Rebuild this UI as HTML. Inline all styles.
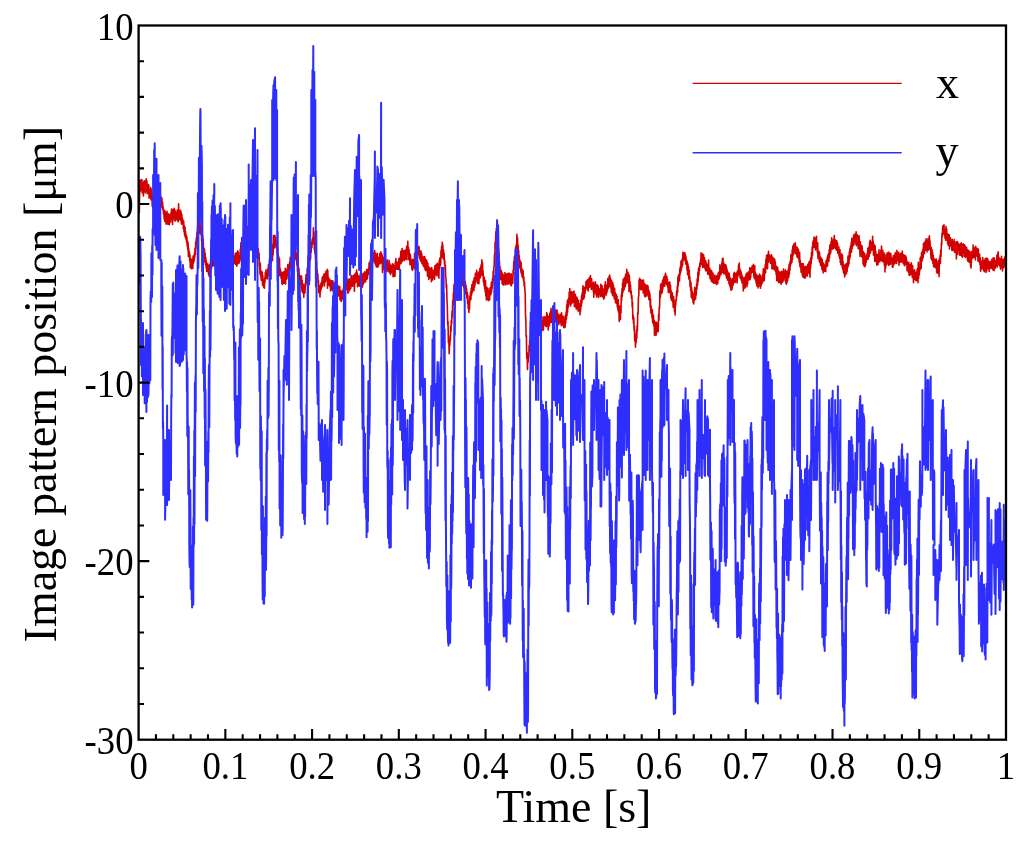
<!DOCTYPE html><html><head><meta charset="utf-8"><style>html,body{margin:0;padding:0;background:#fff;overflow:hidden;}svg{display:block;will-change:transform;}text{font-family:"Liberation Serif",serif;fill:#000;}</style></head><body>
<svg width="1024" height="843" viewBox="0 0 1024 843">
<rect x="0" y="0" width="1024" height="843" fill="#fff"/>
<path d="M139.3 213.1L139.8 180.4 140.2 191.7 140.5 182.1 140.9 188.3 141.2 179.8 141.6 190.2 141.9 179.5 142.2 193.0 142.5 183.3 142.8 189.4 143.1 185.8 143.4 195.9 143.7 181.9 144.0 189.9 144.3 180.7 144.6 190.8 145.0 181.5 145.3 192.9 145.6 180.9 145.9 190.7 146.2 178.8 146.6 191.2 146.9 180.9 147.2 193.8 147.5 186.5 147.8 191.7 148.2 184.6 148.5 193.4 148.8 185.1 149.1 198.2 149.4 191.3 149.8 196.4 150.1 189.5 150.4 197.3 150.7 187.6 151.0 199.8 151.3 189.2 151.6 199.4 151.9 193.8 152.2 206.2 152.5 195.4 152.8 207.4 153.1 196.6 153.4 205.9 153.8 194.7 154.1 207.7 154.4 197.9 154.7 205.3 155.0 200.5 155.4 207.8 155.7 196.5 156.0 212.1 156.3 200.6 156.6 206.2 156.9 195.3 157.2 209.7 157.6 198.5 157.9 205.6 158.2 199.6 158.5 205.1 158.8 198.6 159.1 203.7 159.4 194.8 159.7 207.2 160.0 200.4 160.4 206.8 160.7 196.0 161.0 207.8 161.3 197.6 161.6 202.6 161.9 198.1 162.2 205.9 162.6 202.2 162.9 209.7 163.2 207.1 163.5 213.9 163.8 211.5 164.2 219.0 164.5 210.3 164.8 221.5 165.1 211.4 165.4 221.0 165.8 213.0 166.1 224.2 166.4 215.3 166.7 220.8 167.0 211.3 167.4 223.1 167.7 214.0 168.0 224.4 168.3 213.8 168.6 223.7 169.0 214.4 169.3 224.6 169.6 215.0 169.9 222.5 170.2 215.2 170.6 221.9 170.9 213.0 171.2 218.6 171.5 209.0 171.8 217.1 172.2 210.1 172.5 224.5 172.8 209.5 173.1 220.2 173.4 210.2 173.8 216.1 174.1 208.3 174.4 218.0 174.7 209.8 175.0 221.2 175.4 211.0 175.7 220.2 176.0 212.6 176.3 218.9 176.6 213.0 177.0 218.5 177.3 210.0 177.6 220.8 177.9 211.3 178.2 221.8 178.6 203.7 178.9 219.4 179.2 210.2 179.5 219.3 179.8 212.9 180.2 220.3 180.5 210.4 180.8 216.2 181.1 212.1 181.4 224.1 181.8 214.2 182.1 222.0 182.4 218.2 182.7 223.7 183.0 220.0 183.4 228.8 183.7 221.3 184.0 231.9 184.3 225.7 184.6 235.6 185.0 227.0 185.3 237.3 185.6 231.6 185.9 239.0 186.2 235.1 186.6 242.2 186.9 236.7 187.2 246.1 187.5 240.8 187.8 249.7 188.1 242.8 188.4 256.5 188.7 248.5 189.0 255.6 189.4 251.7 189.7 260.6 190.0 254.9 190.3 267.6 190.6 260.1 190.9 268.2 191.2 264.0 191.5 268.8 191.8 259.0 192.2 268.2 192.5 259.5 192.8 268.5 193.1 256.1 193.4 263.2 193.8 256.0 194.1 261.2 194.4 253.2 194.7 258.0 195.0 248.2 195.4 254.6 195.7 241.9 196.0 248.9 196.3 237.9 196.6 242.3 197.0 232.3 197.3 237.7 197.6 225.9 197.9 233.4 198.2 221.5 198.5 233.2 198.8 215.7 199.1 233.8 199.4 221.1 199.7 230.3 200.0 220.7 200.3 232.3 200.6 226.1 201.0 234.9 201.3 230.0 201.6 240.8 201.9 230.5 202.2 244.1 202.6 235.1 202.9 247.1 203.2 238.9 203.5 253.5 203.8 248.0 204.2 258.9 204.5 249.0 204.8 261.9 205.1 253.2 205.4 264.6 205.8 257.4 206.1 268.0 206.4 261.2 206.7 271.5 207.0 266.6 207.3 271.4 207.7 263.8 208.0 271.2 208.3 267.6 208.6 274.8 208.9 265.4 209.2 276.4 209.5 264.9 209.8 275.4 210.1 264.2 210.4 267.0 210.7 259.9 211.0 265.4 211.3 257.4 211.6 262.2 211.9 257.9 212.2 266.3 212.6 255.9 212.9 265.1 213.2 257.8 213.5 265.6 213.8 255.4 214.1 265.6 214.4 253.5 214.7 263.0 215.1 255.5 215.4 262.9 215.7 254.6 216.0 263.2 216.3 251.1 216.6 261.6 216.9 254.2 217.2 262.0 217.5 254.0 217.8 260.7 218.1 250.0 218.4 259.5 218.7 253.7 219.0 258.7 219.3 248.3 219.6 262.8 219.9 254.8 220.2 259.6 220.5 253.4 220.8 261.6 221.1 254.6 221.4 264.7 221.7 255.3 222.0 261.7 222.3 257.1 222.6 262.4 222.9 253.9 223.2 265.3 223.5 255.4 223.8 264.5 224.2 257.9 224.5 262.9 224.8 253.6 225.1 262.9 225.4 256.1 225.7 261.1 226.0 255.4 226.3 263.3 226.6 254.7 226.9 264.9 227.2 260.1 227.5 262.7 227.8 258.0 228.2 265.2 228.5 254.8 228.8 265.7 229.1 250.6 229.4 266.3 229.7 260.1 230.0 268.3 230.3 258.6 230.6 267.3 230.9 259.9 231.2 266.5 231.5 259.3 231.8 264.0 232.2 254.1 232.5 266.9 232.8 259.8 233.1 269.8 233.4 255.8 233.7 263.9 234.0 256.0 234.3 263.2 234.6 259.5 234.9 261.9 235.3 253.4 235.6 264.4 235.9 254.7 236.2 261.2 236.5 253.0 236.8 266.3 237.1 252.2 237.4 264.2 237.7 250.9 238.0 262.7 238.3 252.0 238.6 263.2 238.9 255.5 239.2 262.9 239.5 257.6 240.0 261.1 240.3 249.1 240.6 258.4 240.9 242.7 241.2 256.8 241.6 248.1 241.9 257.5 242.2 243.1 242.5 251.0 242.8 241.9 243.1 248.8 243.4 241.4 243.7 248.0 244.0 238.2 244.3 245.4 244.6 232.7 244.9 243.9 245.2 233.6 245.5 240.9 245.8 229.2 246.1 240.2 246.4 229.4 246.7 238.7 247.0 227.0 247.3 238.9 247.6 226.6 247.9 234.4 248.2 228.3 248.6 237.8 248.9 227.9 249.2 234.5 249.5 226.3 249.8 229.6 250.1 220.1 250.4 229.8 250.8 218.4 251.1 228.9 251.4 216.7 251.7 226.4 252.0 219.8 252.3 223.0 252.7 212.0 253.1 229.4 253.4 214.6 253.8 221.1 254.1 212.3 254.4 222.0 254.7 216.8 255.0 231.0 255.3 219.8 255.6 233.6 256.0 227.0 256.3 235.9 256.6 231.5 256.9 251.4 257.2 243.8 257.5 253.1 257.8 248.2 258.1 258.5 258.4 249.2 258.8 258.4 259.1 253.6 259.4 266.3 259.7 262.1 260.0 274.1 260.3 263.5 260.6 276.3 260.9 270.4 261.2 280.2 261.5 271.7 261.9 279.2 262.2 272.0 262.5 285.3 262.8 275.5 263.1 285.6 263.4 279.7 263.7 287.5 264.0 280.1 264.4 288.2 264.7 278.1 265.0 282.3 265.3 272.2 265.6 278.1 266.0 269.9 266.3 278.2 266.6 273.8 266.9 278.8 267.2 273.5 267.5 279.0 267.8 268.7 268.1 274.8 268.5 264.5 268.8 275.2 269.1 264.6 269.4 269.9 269.7 260.3 270.0 268.9 270.3 261.2 270.6 263.0 270.9 253.0 271.2 262.9 271.6 251.2 271.9 258.3 272.2 247.5 272.5 260.4 272.8 244.3 273.1 255.0 273.5 235.6 273.8 248.3 274.2 239.7 274.5 248.0 274.9 235.4 275.2 246.0 275.5 237.2 275.9 246.5 276.2 240.6 276.5 247.9 276.8 244.6 277.2 253.9 277.5 247.6 277.8 257.3 278.2 253.8 278.5 265.4 278.8 256.9 279.1 266.1 279.5 258.7 279.8 275.7 280.1 268.6 280.5 273.1 280.8 270.9 281.2 278.7 281.5 272.8 281.9 283.6 282.2 275.8 282.5 284.5 282.8 272.3 283.1 280.4 283.4 274.2 283.8 283.3 284.1 271.6 284.4 279.8 284.7 273.5 285.0 283.5 285.3 268.4 285.6 284.1 285.9 270.1 286.2 279.1 286.5 270.1 286.9 278.9 287.2 268.8 287.5 276.0 287.8 264.6 288.1 274.8 288.4 266.4 288.7 273.8 289.0 265.2 289.3 269.1 289.6 262.2 289.9 270.1 290.2 257.2 290.5 268.1 290.8 258.0 291.1 262.8 291.4 257.2 291.7 269.4 292.0 254.4 292.3 260.1 292.6 253.0 293.0 262.0 293.3 252.8 293.6 261.3 293.9 253.3 294.2 262.5 294.5 252.7 294.9 259.9 295.2 248.6 295.5 256.1 295.8 251.0 296.2 258.0 296.5 253.0 296.8 265.0 297.1 261.0 297.5 271.6 297.8 264.5 298.1 276.3 298.4 266.3 298.7 278.0 299.0 268.6 299.4 282.2 299.7 275.5 300.0 281.2 300.3 275.8 300.6 284.3 300.9 279.6 301.2 287.0 301.5 276.0 301.9 290.9 302.2 280.4 302.5 292.6 302.8 285.2 303.1 292.5 303.5 284.2 303.8 297.3 304.1 285.9 304.4 291.2 304.7 286.4 305.0 293.0 305.3 283.2 305.6 285.5 306.0 274.7 306.3 283.4 306.6 276.0 306.9 281.8 307.2 268.2 307.5 276.1 307.8 266.9 308.1 276.7 308.4 262.9 308.8 268.5 309.1 257.8 309.4 266.2 309.7 250.7 310.0 261.1 310.3 248.8 310.6 258.9 310.9 244.8 311.2 252.3 311.5 242.0 311.9 247.5 312.2 239.6 312.5 242.4 312.8 237.7 313.1 241.9 313.4 227.8 313.7 244.3 314.0 231.9 314.4 250.1 314.7 242.0 315.0 253.7 315.3 250.2 315.6 258.7 315.9 256.0 316.2 268.1 316.5 261.2 316.8 276.0 317.1 270.3 317.5 279.9 317.8 273.9 318.1 283.0 318.4 280.2 318.7 292.6 319.1 285.1 319.4 291.8 319.7 286.7 320.0 297.0 320.3 287.4 320.6 291.1 320.9 283.3 321.2 289.1 321.6 281.9 321.9 287.2 322.2 277.6 322.5 286.0 322.8 276.8 323.1 282.8 323.4 275.7 323.7 281.4 324.0 274.1 324.4 286.0 324.7 273.8 325.0 280.4 325.3 273.5 325.6 281.7 325.9 271.2 326.2 279.7 326.5 274.0 326.9 279.6 327.2 269.4 327.5 288.2 327.8 270.5 328.1 284.4 328.5 277.3 328.8 285.2 329.1 278.8 329.4 284.1 329.7 279.5 330.0 286.8 330.3 280.2 330.6 291.0 331.0 281.9 331.3 289.8 331.6 280.9 331.9 289.2 332.2 285.7 332.5 289.9 332.8 280.7 333.1 291.1 333.5 283.2 333.8 291.6 334.1 284.6 334.4 292.8 334.7 283.4 335.0 294.1 335.3 281.9 335.6 289.4 336.0 283.7 336.3 291.5 336.6 281.3 336.9 293.3 337.2 284.2 337.5 292.2 337.8 285.9 338.1 295.7 338.4 286.0 338.8 294.8 339.1 289.0 339.4 296.1 339.7 286.6 340.0 299.9 340.3 292.1 340.7 297.9 341.0 290.7 341.3 301.5 341.6 291.4 342.0 299.7 342.3 295.0 342.6 297.9 343.0 289.6 343.3 296.5 343.7 287.2 344.0 295.5 344.4 283.6 344.7 289.1 345.0 280.8 345.3 288.0 345.6 279.2 345.9 285.2 346.2 283.9 346.5 289.3 346.8 278.8 347.1 289.1 347.4 281.4 347.7 293.1 348.0 284.2 348.3 292.7 348.6 279.5 348.9 291.2 349.2 278.8 349.5 290.2 349.8 281.0 350.1 289.4 350.4 281.8 350.7 288.5 351.0 276.8 351.3 286.4 351.6 275.5 351.9 285.9 352.2 280.2 352.5 286.2 352.8 278.8 353.1 284.0 353.4 275.3 353.7 285.6 354.1 276.2 354.4 291.2 354.7 274.2 355.0 283.5 355.3 274.0 355.6 282.5 355.9 272.7 356.2 281.2 356.6 270.1 356.9 280.9 357.2 272.7 357.5 286.8 357.8 275.2 358.2 285.4 358.5 275.7 358.8 283.9 359.1 279.7 359.4 286.3 359.7 276.8 360.0 280.0 360.4 273.6 360.7 285.4 361.0 276.9 361.3 284.1 361.6 273.3 361.9 282.2 362.2 275.1 362.5 287.1 362.8 277.0 363.1 284.6 363.4 273.4 363.8 283.1 364.1 277.1 364.4 281.4 364.7 271.9 365.0 281.4 365.3 274.0 365.6 282.0 365.9 272.0 366.2 278.4 366.6 269.6 366.9 279.1 367.2 272.5 367.5 278.7 367.8 269.6 368.1 274.7 368.4 268.5 368.7 274.4 369.1 262.7 369.4 270.7 369.7 263.5 370.0 269.0 370.3 260.3 370.7 270.2 371.0 257.7 371.3 265.3 371.6 255.4 371.9 265.0 372.2 251.1 372.5 263.1 372.9 254.1 373.2 261.3 373.5 252.7 373.8 260.9 374.1 252.3 374.4 259.9 374.7 250.5 375.0 263.4 375.3 253.1 375.6 265.0 375.9 254.4 376.3 267.0 376.6 254.3 376.9 266.3 377.2 253.4 377.5 267.1 377.8 257.5 378.1 266.7 378.4 258.0 378.7 265.0 379.1 257.0 379.4 261.1 379.7 253.6 380.0 263.8 380.3 254.2 380.6 258.4 380.9 251.7 381.2 262.5 381.6 253.4 381.9 263.5 382.2 255.1 382.5 272.5 382.8 259.0 383.2 265.4 383.5 257.4 383.8 268.9 384.1 261.1 384.4 269.9 384.7 265.4 385.0 269.6 385.4 260.2 385.7 272.3 386.0 262.2 386.3 271.1 386.6 261.5 386.9 269.1 387.2 259.7 387.5 269.2 387.8 264.0 388.1 271.8 388.4 263.9 388.8 269.8 389.1 260.3 389.4 271.9 389.7 263.4 390.0 273.5 390.3 264.9 390.6 274.4 390.9 266.5 391.2 270.7 391.5 265.5 391.8 272.4 392.1 264.7 392.4 271.8 392.7 263.9 393.0 276.6 393.3 264.3 393.7 276.8 394.0 268.7 394.3 275.7 394.7 265.5 395.0 276.2 395.3 262.1 395.6 268.7 395.9 258.6 396.2 269.2 396.5 262.5 396.8 268.8 397.1 262.5 397.4 269.2 397.7 262.5 398.0 267.1 398.3 261.2 398.6 269.8 398.9 258.5 399.2 269.5 399.6 260.3 399.9 264.3 400.2 257.1 400.5 262.7 400.8 251.3 401.1 263.5 401.5 253.9 401.8 261.4 402.1 248.5 402.4 261.5 402.8 250.4 403.1 259.7 403.4 251.0 403.7 258.4 404.1 250.6 404.4 260.6 404.7 250.6 405.0 258.6 405.4 251.9 405.7 259.1 406.0 249.6 406.3 256.5 406.6 246.4 406.9 259.8 407.2 247.3 407.5 252.9 407.8 241.4 408.1 253.0 408.5 247.6 408.8 259.4 409.1 249.7 409.4 260.6 409.7 254.8 410.0 264.9 410.4 254.2 410.7 263.9 411.0 258.9 411.3 264.1 411.6 261.2 411.9 269.3 412.2 261.4 412.5 270.4 412.8 259.4 413.1 266.6 413.4 260.3 413.7 267.4 414.0 261.6 414.3 268.7 414.6 253.4 414.9 261.6 415.2 252.5 415.6 263.1 415.9 253.2 416.2 261.7 416.5 252.1 416.8 258.6 417.1 248.6 417.5 253.7 417.8 248.7 418.1 254.5 418.4 246.4 418.8 254.9 419.1 246.9 419.4 257.9 419.7 252.1 420.1 259.8 420.4 251.1 420.7 261.2 421.0 251.0 421.4 258.9 421.7 253.4 422.0 263.7 422.3 256.3 422.6 259.5 422.9 256.5 423.2 265.6 423.5 257.2 423.8 266.7 424.1 260.7 424.4 263.4 424.7 256.6 425.0 269.5 425.3 258.8 425.6 270.6 425.9 262.8 426.3 270.4 426.6 260.0 426.9 270.6 427.2 262.4 427.5 276.2 427.8 263.2 428.2 274.7 428.5 266.5 428.8 279.4 429.1 267.2 429.5 278.1 429.8 270.0 430.1 274.7 430.4 268.3 430.8 277.5 431.1 271.7 431.4 281.7 431.7 267.6 432.1 280.1 432.4 270.0 432.7 280.0 433.0 270.1 433.4 275.7 433.7 271.5 434.0 277.5 434.3 270.9 434.6 279.2 434.9 265.7 435.3 272.7 435.6 265.6 435.9 274.8 436.2 264.6 436.5 275.1 436.8 267.1 437.1 275.9 437.4 263.2 437.7 272.0 438.0 264.3 438.3 272.1 438.6 265.3 438.9 278.3 439.2 260.8 439.5 268.7 439.8 258.2 440.1 266.4 440.4 257.3 440.7 264.8 441.0 250.6 441.3 257.2 441.6 246.5 441.9 257.1 442.2 242.3 442.5 249.5 442.8 244.8 443.2 258.7 443.5 249.9 443.8 259.5 444.1 253.1 444.5 264.7 444.8 260.2 445.1 269.2 445.4 265.4 445.7 277.8 446.0 278.1 446.3 288.0 446.6 284.3 447.0 300.8 447.3 305.8 447.7 324.9 448.0 321.6 448.4 342.7 448.8 340.3 449.2 353.8 449.5 342.5 449.8 345.5 450.1 335.7 450.4 340.3 450.7 326.2 451.0 331.7 451.3 320.3 451.7 323.8 452.0 311.4 452.4 317.3 452.7 300.7 453.0 305.5 453.4 293.0 453.7 297.1 454.0 284.4 454.4 297.1 454.7 284.8 455.0 293.9 455.4 283.0 455.7 288.3 456.1 280.5 456.4 287.0 456.7 278.6 457.0 281.0 457.3 272.1 457.6 278.6 457.9 270.5 458.2 277.3 458.5 268.3 458.8 271.7 459.1 262.4 459.4 273.0 459.7 268.1 460.1 277.6 460.4 269.7 460.7 279.0 461.0 271.9 461.4 282.7 461.7 272.9 462.0 285.8 462.3 269.8 462.6 281.7 462.9 277.4 463.2 285.5 463.5 274.2 463.8 287.5 464.1 278.0 464.4 290.4 464.7 280.8 465.0 291.6 465.3 281.8 465.6 293.8 466.0 285.0 466.3 291.7 466.6 288.7 466.9 298.2 467.3 292.6 467.6 303.6 467.9 295.2 468.2 308.4 468.6 301.4 468.9 312.5 469.2 302.1 469.5 309.1 469.9 296.3 470.2 300.2 470.5 292.1 470.9 299.5 471.2 288.5 471.5 295.5 471.8 284.7 472.1 292.9 472.4 285.3 472.7 291.7 473.0 281.7 473.3 288.4 473.6 280.2 473.9 290.4 474.2 277.8 474.5 287.5 474.8 278.5 475.1 284.8 475.4 273.3 475.7 282.1 476.1 273.0 476.4 279.5 476.7 270.3 477.0 279.0 477.3 274.0 477.6 283.4 478.0 273.6 478.3 280.2 478.6 272.3 478.9 283.8 479.3 271.3 479.6 277.2 479.9 268.6 480.2 277.9 480.6 266.8 480.9 275.9 481.2 264.6 481.5 274.5 481.9 259.9 482.2 270.5 482.5 262.6 482.8 276.0 483.1 270.9 483.4 281.9 483.7 276.3 484.0 285.5 484.3 277.7 484.6 288.5 484.9 282.0 485.2 292.0 485.5 280.5 485.8 296.0 486.1 287.5 486.4 299.9 486.8 287.1 487.1 296.9 487.4 289.4 487.7 299.3 488.0 288.6 488.3 300.7 488.7 290.7 489.0 298.1 489.3 291.4 489.6 299.9 490.0 287.8 490.3 293.5 490.6 288.1 490.9 294.8 491.3 282.5 491.6 292.3 491.9 281.7 492.2 288.1 492.6 278.2 492.9 283.9 493.2 271.1 493.5 279.8 493.9 267.2 494.2 266.2 494.5 254.0 494.8 256.5 495.1 242.0 495.4 248.6 495.8 231.9 496.1 239.9 496.4 228.1 496.7 230.3 497.0 219.7 497.3 230.4 497.6 229.1 497.9 241.3 498.2 235.0 498.5 251.1 498.8 249.0 499.1 263.9 499.4 261.0 499.7 270.0 500.0 266.6 500.3 279.8 500.6 269.5 500.9 278.6 501.2 270.6 501.5 279.2 501.8 272.0 502.1 283.6 502.4 273.6 502.7 284.4 503.0 274.1 503.3 280.9 503.6 275.8 503.9 285.3 504.2 275.7 504.6 283.3 504.9 272.5 505.2 279.8 505.5 274.6 505.8 284.7 506.1 275.7 506.5 284.0 506.8 273.9 507.1 281.9 507.4 274.5 507.7 284.1 508.1 273.2 508.4 283.7 508.7 277.0 509.0 282.6 509.3 273.4 509.6 283.7 510.0 274.9 510.3 284.2 510.6 274.2 510.9 285.5 511.2 273.7 511.5 285.7 511.9 277.4 512.2 281.0 512.5 275.7 512.8 283.3 513.1 270.4 513.4 274.5 513.8 261.6 514.1 269.9 514.4 256.5 514.7 265.7 515.0 255.3 515.3 258.0 515.6 246.7 516.0 257.7 516.3 244.5 516.6 249.3 516.9 234.3 517.2 247.0 517.5 237.2 517.8 249.9 518.1 245.0 518.4 256.5 518.7 250.6 519.0 265.7 519.3 255.8 519.6 267.2 519.9 260.0 520.2 268.6 520.6 261.5 520.9 272.2 521.2 262.8 521.5 274.2 521.8 269.4 522.1 277.0 522.5 269.5 522.8 277.8 523.1 270.8 523.5 280.8 523.8 276.8 524.2 286.1 524.5 281.7 524.9 290.5 525.2 293.7 525.5 315.3 525.8 318.3 526.1 336.5 526.4 335.4 526.7 358.2 527.1 352.3 527.5 369.6 527.8 356.4 528.1 362.2 528.5 354.9 528.8 356.4 529.1 345.5 529.4 351.6 529.7 340.6 530.0 342.6 530.4 321.6 530.7 333.2 531.0 317.1 531.4 325.4 531.7 305.0 532.0 309.9 532.3 303.0 532.6 309.5 533.0 298.2 533.3 305.6 533.6 301.4 533.9 312.3 534.2 302.0 534.5 312.5 534.9 305.4 535.2 312.5 535.5 304.6 535.8 318.8 536.1 307.3 536.4 315.3 536.8 304.6 537.1 312.7 537.4 307.8 537.7 314.4 538.0 313.1 538.3 319.9 538.6 313.4 539.0 319.4 539.3 309.2 539.6 318.8 539.9 310.6 540.2 323.8 540.5 315.0 540.8 326.6 541.1 317.2 541.5 325.8 541.8 316.2 542.1 330.7 542.4 321.8 542.7 327.6 543.0 320.9 543.4 330.0 543.7 317.0 544.0 325.5 544.3 317.9 544.6 324.8 544.9 316.9 545.2 323.0 545.5 318.4 545.8 326.2 546.1 316.7 546.4 326.6 546.7 312.6 547.0 324.1 547.3 314.4 547.6 323.7 547.9 319.4 548.2 330.0 548.5 316.3 548.8 326.4 549.1 317.8 549.5 325.4 549.8 313.2 550.1 322.8 550.4 312.1 550.7 320.9 551.0 308.4 551.4 322.5 551.7 310.4 552.0 319.9 552.3 311.6 552.6 316.4 552.9 309.2 553.2 316.4 553.5 312.3 553.8 317.9 554.1 310.5 554.4 324.6 554.7 311.2 555.0 321.7 555.3 313.1 555.6 321.6 555.9 309.7 556.2 316.6 556.5 311.1 556.8 321.4 557.1 310.4 557.4 321.1 557.8 313.7 558.1 319.6 558.4 314.2 558.7 324.8 559.0 315.8 559.3 321.5 559.7 316.3 560.0 322.8 560.3 314.4 560.6 320.7 560.9 314.8 561.2 325.6 561.6 312.8 561.9 324.3 562.2 317.1 562.5 323.1 562.9 316.3 563.2 326.1 563.5 316.5 563.8 327.5 564.2 318.7 564.5 327.8 564.8 321.2 565.1 327.3 565.4 315.2 565.7 323.0 566.1 312.1 566.4 319.2 566.7 305.0 567.0 315.7 567.3 300.7 567.6 312.1 568.0 299.5 568.3 307.1 568.6 298.2 568.9 304.8 569.2 292.1 569.5 302.4 569.8 288.5 570.1 298.2 570.4 292.9 570.7 305.9 571.0 293.1 571.3 303.3 571.6 291.5 571.9 303.4 572.2 292.4 572.5 298.7 572.8 292.3 573.1 302.3 573.4 292.1 573.7 297.8 574.0 291.0 574.4 306.5 574.7 295.3 575.0 306.7 575.3 294.4 575.6 303.9 575.9 297.6 576.3 309.3 576.6 297.1 576.9 307.3 577.2 297.7 577.5 307.2 577.8 300.9 578.1 311.3 578.4 300.2 578.8 310.0 579.1 303.5 579.4 310.4 579.7 305.6 580.0 314.6 580.3 304.1 580.6 311.3 580.9 300.0 581.3 306.4 581.6 295.5 581.9 303.0 582.2 292.7 582.5 299.6 582.9 285.8 583.2 298.0 583.5 290.2 583.8 299.1 584.1 287.2 584.4 297.2 584.8 289.4 585.1 293.3 585.4 286.8 585.7 290.3 586.0 281.5 586.3 287.3 586.7 280.8 587.0 288.0 587.3 280.4 587.6 289.1 587.9 279.6 588.2 291.1 588.5 279.7 588.8 286.5 589.2 277.8 589.5 287.1 589.8 279.1 590.1 285.4 590.4 275.6 590.7 286.6 591.0 280.0 591.3 289.5 591.6 278.7 591.9 287.9 592.2 282.8 592.6 288.2 592.9 283.9 593.2 291.3 593.5 282.4 593.8 297.3 594.1 283.8 594.4 293.7 594.7 286.4 595.0 292.3 595.3 281.8 595.6 292.1 595.9 284.4 596.2 294.9 596.5 288.3 596.8 297.0 597.1 284.9 597.4 292.9 597.7 287.6 598.0 294.6 598.3 286.0 598.6 297.5 598.9 288.7 599.3 294.3 599.6 289.7 599.9 294.3 600.2 288.5 600.5 296.5 600.8 284.3 601.2 296.0 601.5 285.2 601.8 295.9 602.1 285.8 602.4 297.0 602.7 290.3 603.1 295.6 603.4 289.0 603.7 299.3 604.0 290.3 604.4 297.7 604.7 285.1 605.0 295.1 605.3 281.9 605.7 292.4 606.0 287.0 606.3 294.9 606.6 285.3 606.9 292.4 607.2 284.5 607.5 290.8 607.8 278.5 608.2 288.4 608.5 279.9 608.8 284.8 609.1 276.4 609.4 286.5 609.7 275.0 610.0 285.2 610.3 277.7 610.6 288.0 611.0 279.7 611.3 292.6 611.6 280.4 611.9 291.4 612.2 285.9 612.5 295.1 612.8 282.7 613.1 296.0 613.4 285.1 613.7 295.2 614.0 288.5 614.3 299.0 614.6 288.3 614.9 298.7 615.2 292.5 615.5 302.6 615.8 293.7 616.1 303.2 616.4 294.6 616.7 303.4 617.0 296.3 617.3 307.3 617.6 299.5 617.9 310.1 618.2 299.8 618.5 312.0 618.9 306.4 619.2 321.4 619.5 306.1 619.8 314.9 620.1 306.5 620.4 319.6 620.7 306.0 621.0 313.0 621.3 295.0 621.6 300.5 622.0 288.9 622.3 296.3 622.6 283.1 622.9 292.2 623.2 279.2 623.5 290.6 623.8 279.9 624.1 289.7 624.4 277.5 624.7 285.7 625.0 281.2 625.3 286.7 625.6 274.3 625.9 283.7 626.2 276.6 626.5 283.4 626.8 269.4 627.1 281.8 627.4 273.5 627.7 282.3 628.0 272.3 628.3 282.9 628.7 274.0 629.0 291.8 629.3 275.6 629.6 288.6 629.9 281.6 630.2 290.8 630.5 284.7 630.9 293.8 631.2 291.4 631.5 298.1 631.9 295.6 632.2 307.1 632.5 302.4 632.8 318.9 633.1 315.1 633.5 323.2 633.8 317.7 634.1 330.3 634.4 326.0 634.7 340.8 635.1 335.4 635.5 347.1 635.8 336.9 636.1 342.6 636.5 330.9 636.8 338.2 637.1 325.9 637.4 330.8 637.7 312.7 638.1 314.1 638.4 297.6 638.8 295.3 639.1 280.1 639.4 289.1 639.7 278.2 640.1 289.0 640.4 279.5 640.7 289.6 641.0 283.0 641.3 289.8 641.6 280.4 642.0 287.1 642.3 280.3 642.6 289.2 642.9 283.7 643.2 293.0 643.5 280.0 643.8 293.0 644.2 283.3 644.5 295.8 644.8 284.4 645.1 296.9 645.4 284.6 645.7 295.9 646.0 285.2 646.3 293.8 646.7 287.1 647.0 296.1 647.3 285.2 647.6 293.9 648.0 286.1 648.3 294.0 648.6 289.8 648.9 299.4 649.3 291.4 649.6 300.5 649.9 293.5 650.2 307.3 650.5 299.0 650.8 312.7 651.1 306.2 651.4 313.7 651.7 311.1 652.0 317.9 652.3 309.7 652.6 322.5 652.9 314.0 653.2 323.6 653.5 315.6 653.9 326.0 654.2 320.2 654.5 335.4 654.8 323.3 655.1 335.2 655.4 322.0 655.7 333.8 656.0 325.6 656.3 335.0 656.7 322.2 657.0 329.1 657.3 324.9 657.6 331.8 657.9 323.5 658.2 331.6 658.6 314.6 658.9 320.4 659.2 307.3 659.6 308.0 659.9 290.8 660.3 297.5 660.6 284.8 660.9 294.4 661.2 283.9 661.5 291.8 661.8 287.2 662.2 292.7 662.5 280.7 662.8 289.2 663.1 279.6 663.4 286.8 663.7 277.1 664.0 284.9 664.3 277.3 664.6 286.3 665.0 275.1 665.3 282.9 665.6 273.3 665.9 282.6 666.2 276.2 666.5 284.7 666.8 276.3 667.1 283.4 667.4 279.0 667.7 286.9 668.0 282.5 668.3 292.4 668.6 283.1 668.9 291.5 669.2 282.4 669.5 292.1 669.8 282.1 670.2 293.2 670.5 285.3 670.8 298.1 671.1 290.5 671.4 300.2 671.7 292.9 672.0 298.4 672.3 292.7 672.6 301.9 672.9 298.8 673.2 307.2 673.6 296.6 673.9 306.2 674.2 300.4 674.5 311.8 674.8 303.4 675.1 315.1 675.4 302.4 675.7 305.3 676.0 299.0 676.3 300.1 676.7 290.9 677.0 295.9 677.3 286.2 677.6 292.4 677.9 277.3 678.2 286.0 678.5 275.4 678.8 282.0 679.1 274.3 679.5 280.7 679.8 268.8 680.1 274.9 680.4 266.6 680.7 272.3 681.0 261.0 681.3 270.3 681.6 262.5 681.9 267.5 682.2 258.7 682.6 265.1 682.9 252.4 683.2 260.5 683.5 254.0 683.8 258.1 684.1 253.0 684.5 259.2 684.8 252.6 685.1 261.1 685.4 254.4 685.7 264.1 686.0 256.8 686.3 263.7 686.7 260.1 687.0 270.1 687.3 261.9 687.6 274.8 687.9 263.7 688.2 274.7 688.5 266.6 688.8 278.9 689.2 270.0 689.5 279.1 689.8 276.6 690.1 286.7 690.4 280.8 690.7 290.6 691.0 282.8 691.3 297.4 691.6 287.5 691.9 296.7 692.2 291.4 692.5 299.5 692.8 292.8 693.1 302.8 693.4 293.6 693.7 303.9 694.1 293.7 694.4 300.4 694.7 287.4 695.0 299.2 695.3 289.4 695.6 299.0 696.0 288.4 696.3 294.9 696.6 284.3 696.9 289.3 697.2 278.7 697.6 285.3 697.9 272.2 698.2 281.2 698.5 268.4 698.9 275.3 699.2 266.5 699.5 270.7 699.8 263.2 700.2 266.4 700.5 260.4 700.8 261.4 701.1 252.9 701.4 264.5 701.7 255.6 702.1 264.4 702.4 253.9 702.7 267.6 703.0 257.9 703.3 266.4 703.6 254.9 704.0 267.3 704.3 257.5 704.6 265.6 704.9 260.3 705.2 269.5 705.5 260.4 705.8 270.8 706.1 262.4 706.4 269.3 706.7 264.0 707.0 271.0 707.3 265.4 707.7 274.2 708.0 264.4 708.3 272.2 708.6 260.0 708.9 274.2 709.2 268.9 709.5 275.6 709.8 268.4 710.1 278.8 710.4 270.3 710.7 277.2 711.1 270.2 711.4 281.4 711.7 270.8 712.0 281.2 712.4 274.3 712.7 282.3 713.0 273.1 713.3 283.1 713.7 276.4 714.0 282.9 714.3 277.4 714.6 282.2 714.9 275.0 715.2 283.2 715.6 278.9 715.9 283.5 716.2 276.7 716.5 284.4 716.8 275.7 717.1 282.5 717.5 275.7 717.8 283.6 718.1 273.2 718.4 277.1 718.7 272.4 719.0 279.3 719.3 272.2 719.6 277.4 719.9 264.9 720.2 274.2 720.5 268.1 720.9 274.6 721.2 266.3 721.5 273.5 721.8 263.1 722.1 272.2 722.4 258.5 722.7 272.1 723.0 258.3 723.3 271.0 723.6 262.9 723.9 273.9 724.2 264.1 724.5 273.5 724.9 265.7 725.2 272.2 725.5 264.9 725.8 275.1 726.1 265.2 726.4 277.3 726.7 268.0 727.0 278.7 727.3 270.4 727.7 280.3 728.0 272.2 728.3 280.2 728.6 273.7 729.0 283.8 729.3 273.2 729.6 285.3 729.9 278.3 730.3 287.3 730.6 278.1 730.9 290.1 731.2 281.4 731.5 290.0 731.8 280.0 732.2 288.9 732.5 278.9 732.8 285.7 733.1 279.3 733.4 284.1 733.7 273.2 734.1 282.0 734.4 272.2 734.7 278.5 735.0 274.0 735.3 282.4 735.6 273.6 735.9 280.5 736.2 274.7 736.5 278.8 736.8 272.8 737.1 283.0 737.4 270.9 737.7 277.4 738.0 270.5 738.3 274.7 738.6 264.8 738.9 271.8 739.2 263.1 739.5 275.0 739.8 268.7 740.1 277.9 740.5 270.4 740.8 278.7 741.1 271.9 741.4 280.4 741.7 274.3 742.0 282.7 742.4 276.2 742.7 283.5 743.0 278.6 743.3 290.9 743.6 278.0 743.9 285.6 744.2 280.4 744.5 288.3 744.8 277.3 745.1 287.7 745.4 277.3 745.7 283.6 746.0 274.5 746.3 284.4 746.6 273.2 746.9 286.8 747.2 277.6 747.5 284.5 748.0 272.2 748.3 279.8 748.6 274.7 748.9 279.9 749.2 271.4 749.5 275.3 749.8 267.8 750.1 279.4 750.4 269.2 750.7 277.8 751.0 268.1 751.3 273.3 751.6 268.5 751.9 272.3 752.2 265.8 752.5 270.9 752.8 266.7 753.1 272.5 753.5 264.4 753.8 276.7 754.1 267.5 754.4 278.6 754.7 265.8 755.0 275.0 755.4 272.7 755.7 280.6 756.0 276.7 756.3 283.4 756.6 274.4 756.9 286.0 757.2 275.7 757.5 283.4 757.8 279.8 758.1 287.9 758.4 275.8 758.7 282.6 759.0 277.5 759.3 283.1 759.6 274.0 759.9 286.5 760.2 275.4 760.5 288.3 760.8 280.9 761.1 285.8 761.4 278.2 761.8 283.6 762.1 275.7 762.4 282.9 762.7 274.2 763.0 281.4 763.3 268.7 763.7 278.0 764.0 269.3 764.3 280.6 764.6 270.2 764.9 273.6 765.2 264.9 765.6 272.8 765.9 259.2 766.2 268.4 766.5 255.6 766.9 263.6 767.2 254.8 767.5 268.8 767.8 254.8 768.2 262.4 768.5 251.2 768.8 257.8 769.1 254.9 769.4 260.0 769.7 255.0 770.1 262.7 770.4 257.5 770.7 263.5 771.0 255.7 771.3 263.8 771.6 254.9 772.0 268.9 772.3 258.1 772.6 266.9 772.9 257.3 773.2 268.7 773.5 261.6 773.8 267.4 774.1 258.7 774.4 269.8 774.7 259.2 775.0 270.0 775.3 261.9 775.6 271.6 775.9 266.8 776.2 274.8 776.5 266.4 776.8 280.7 777.1 271.0 777.4 279.2 777.7 267.2 778.0 280.9 778.4 270.8 778.7 282.6 779.0 271.6 779.3 279.9 779.6 276.3 779.9 282.4 780.3 272.3 780.6 283.2 780.9 274.0 781.2 284.3 781.5 271.2 781.8 280.7 782.2 271.8 782.5 282.2 782.8 273.6 783.1 281.0 783.5 269.1 783.8 280.5 784.1 271.9 784.4 276.4 784.8 271.8 785.1 277.8 785.4 269.7 785.7 282.8 786.0 271.2 786.3 284.2 786.6 275.4 787.0 282.7 787.3 271.4 787.6 280.6 787.9 271.2 788.2 278.1 788.5 268.2 788.8 277.1 789.1 264.2 789.4 274.0 789.7 263.0 790.0 270.0 790.3 260.9 790.6 265.3 790.9 254.7 791.3 263.2 791.6 254.2 791.9 262.4 792.2 249.9 792.5 259.4 792.8 246.4 793.1 255.6 793.4 245.0 793.7 250.2 794.0 243.9 794.3 248.4 794.6 244.5 795.0 253.7 795.3 242.7 795.6 251.6 795.9 246.3 796.2 253.4 796.5 247.7 796.9 256.5 797.2 247.4 797.5 257.5 797.8 248.8 798.1 256.7 798.4 249.2 798.7 258.9 799.0 256.7 799.3 262.7 799.6 252.3 799.9 266.2 800.2 260.2 800.5 267.6 800.8 264.4 801.1 272.2 801.4 263.7 801.7 269.6 802.0 263.4 802.3 275.2 802.6 265.5 802.9 276.9 803.3 263.9 803.6 276.1 803.9 267.6 804.2 277.8 804.5 266.7 804.8 278.2 805.2 269.2 805.5 277.6 805.8 266.2 806.1 275.7 806.4 267.0 806.7 273.9 807.1 266.8 807.4 275.9 807.7 264.3 808.0 270.6 808.4 266.1 808.7 273.0 809.0 262.0 809.3 271.3 809.7 261.5 810.0 277.3 810.3 260.0 810.6 268.1 810.9 257.5 811.2 263.9 811.5 252.6 811.8 259.4 812.2 247.0 812.5 255.5 812.8 242.1 813.1 247.8 813.4 240.5 813.7 245.7 814.0 237.4 814.3 247.4 814.6 237.2 815.0 247.7 815.3 239.3 815.6 250.0 815.9 238.4 816.2 247.6 816.5 236.4 816.8 248.1 817.1 243.4 817.4 252.6 817.7 242.8 818.0 258.5 818.4 251.1 818.7 258.8 819.0 251.4 819.3 261.6 819.6 252.9 819.9 262.8 820.2 256.7 820.6 265.5 820.9 259.5 821.2 264.9 821.5 258.0 821.9 269.2 822.2 259.6 822.5 270.2 822.8 263.9 823.2 272.9 823.5 263.1 823.8 270.7 824.1 266.4 824.4 271.1 824.7 265.0 825.1 268.8 825.4 265.1 825.7 271.8 826.0 261.0 826.3 264.5 826.6 259.8 827.0 266.4 827.3 257.0 827.6 265.6 827.9 255.1 828.2 260.9 828.5 253.6 828.9 261.2 829.2 249.7 829.5 257.7 829.8 245.1 830.1 254.2 830.5 244.4 830.8 252.7 831.1 241.6 831.4 248.0 831.7 237.8 832.0 249.3 832.4 240.7 832.7 249.0 833.0 242.4 833.3 248.6 833.6 239.0 833.9 247.0 834.3 235.5 834.6 247.6 834.9 240.3 835.2 248.2 835.5 240.0 835.8 248.9 836.2 242.3 836.5 250.1 836.8 240.8 837.1 249.2 837.5 243.1 837.8 253.3 838.1 246.5 838.4 253.5 838.8 247.1 839.1 256.1 839.4 249.9 839.7 258.5 840.0 249.7 840.3 262.6 840.6 255.5 840.9 264.7 841.2 256.9 841.5 264.1 841.8 253.7 842.2 267.3 842.5 255.4 842.8 269.2 843.1 261.7 843.4 272.3 843.7 266.7 844.0 273.4 844.3 267.7 844.6 277.0 844.9 264.7 845.2 275.1 845.5 264.8 845.8 271.9 846.2 263.5 846.5 273.6 846.8 264.5 847.1 271.5 847.4 262.8 847.7 267.7 848.0 256.1 848.3 265.9 848.6 256.2 849.0 264.0 849.3 251.9 849.6 259.2 849.9 248.8 850.2 256.8 850.5 246.1 850.9 251.7 851.2 242.7 851.5 252.1 851.8 238.2 852.1 248.8 852.4 241.6 852.7 245.9 853.0 238.9 853.3 245.8 853.6 235.5 853.9 244.7 854.2 234.3 854.6 241.5 854.9 234.3 855.2 241.2 855.5 234.7 855.8 244.0 856.1 231.8 856.4 245.7 856.7 237.4 857.0 242.4 857.3 234.7 857.6 243.1 857.9 235.7 858.2 248.6 858.5 236.6 858.8 248.0 859.1 235.8 859.4 249.1 859.7 242.8 860.0 256.5 860.3 241.7 860.6 253.5 860.9 244.9 861.2 253.5 861.5 247.4 861.8 256.6 862.1 246.0 862.4 257.5 862.8 251.1 863.1 264.1 863.4 251.7 863.7 265.2 864.0 256.6 864.3 266.3 864.6 253.2 864.9 266.7 865.2 260.4 865.6 265.0 865.9 256.3 866.2 262.4 866.5 255.0 866.8 259.7 867.1 253.9 867.5 257.2 867.8 248.4 868.1 259.2 868.4 248.9 868.7 257.0 869.0 246.7 869.3 256.2 869.6 241.9 869.9 251.9 870.2 240.2 870.5 252.9 870.8 245.6 871.1 249.5 871.4 242.4 871.7 250.3 872.0 242.8 872.3 247.3 872.6 236.3 872.9 249.7 873.2 241.2 873.5 255.1 873.9 244.0 874.2 253.6 874.5 249.0 874.8 261.5 875.1 245.7 875.4 258.0 875.8 251.5 876.1 261.5 876.4 255.1 876.7 265.1 877.0 254.8 877.3 262.5 877.7 254.9 878.0 264.7 878.3 253.7 878.6 262.1 879.0 249.7 879.3 259.0 879.6 254.5 879.9 261.6 880.3 253.2 880.6 259.8 880.9 250.0 881.2 260.2 881.5 246.1 881.8 257.7 882.2 253.8 882.5 261.8 882.8 250.4 883.1 259.8 883.4 253.9 883.7 261.9 884.1 253.0 884.4 265.6 884.7 254.3 885.0 272.0 885.3 259.9 885.6 268.2 885.9 258.4 886.2 265.1 886.5 254.7 886.8 264.2 887.1 252.9 887.4 262.7 887.7 256.5 888.0 260.9 888.3 253.0 888.6 265.5 888.9 252.1 889.2 261.6 889.5 254.6 889.8 264.5 890.1 253.9 890.5 264.2 890.8 253.4 891.1 260.9 891.4 257.6 891.7 262.5 892.0 258.4 892.4 267.2 892.7 261.5 893.0 267.1 893.3 255.6 893.6 265.0 893.9 256.6 894.2 263.7 894.5 255.2 894.8 262.0 895.1 253.0 895.4 263.0 895.7 253.2 896.0 262.6 896.3 252.0 896.6 263.4 896.9 250.4 897.2 260.3 897.5 253.9 897.8 260.6 898.1 253.9 898.4 261.0 898.7 252.2 899.0 265.3 899.3 255.5 899.6 262.5 899.9 255.9 900.2 259.9 900.5 253.5 900.8 262.3 901.1 253.3 901.4 260.0 901.7 255.6 902.0 261.6 902.3 251.1 902.6 259.9 902.9 256.8 903.2 263.6 903.6 254.9 903.9 264.0 904.2 258.0 904.5 265.7 904.9 255.2 905.2 263.9 905.5 255.7 905.9 264.5 906.2 257.1 906.5 262.4 906.8 260.4 907.1 270.7 907.5 262.5 907.8 268.5 908.1 265.5 908.5 272.1 908.8 262.2 909.1 275.2 909.4 265.6 909.8 275.4 910.1 264.5 910.4 274.1 910.7 265.4 911.0 274.5 911.3 262.7 911.6 274.1 912.0 266.8 912.3 277.5 912.6 265.6 912.9 277.2 913.2 270.8 913.5 282.8 913.8 271.2 914.1 278.3 914.5 269.7 914.8 279.1 915.1 272.4 915.4 279.6 915.7 275.2 916.0 280.7 916.4 272.0 916.7 280.5 917.0 269.8 917.3 277.7 917.7 268.3 918.0 282.8 918.3 262.4 918.6 278.4 919.0 269.4 919.3 274.6 919.6 266.7 919.9 270.6 920.2 257.8 920.6 265.5 920.9 256.7 921.2 268.4 921.5 253.1 921.9 261.1 922.2 251.5 922.5 259.9 922.9 249.2 923.2 257.4 923.5 243.2 923.8 250.9 924.1 245.4 924.5 253.5 924.8 242.0 925.1 250.5 925.5 240.7 925.8 248.5 926.1 238.8 926.4 250.0 926.8 242.8 927.1 251.9 927.4 240.8 927.7 248.9 928.0 238.5 928.4 250.1 928.7 238.3 929.0 249.5 929.4 235.9 929.7 244.0 930.0 241.1 930.3 248.8 930.6 246.7 931.0 258.2 931.3 247.6 931.6 259.4 932.0 249.5 932.3 260.8 932.6 252.3 932.9 263.5 933.2 255.2 933.6 266.7 933.9 259.7 934.2 265.3 934.5 259.1 934.8 267.2 935.1 259.2 935.4 267.5 935.7 261.2 936.0 267.9 936.3 259.1 936.6 272.3 936.9 264.4 937.2 273.3 937.5 263.4 937.8 269.0 938.2 260.7 938.5 273.1 938.8 264.8 939.1 276.6 939.4 258.6 939.8 262.5 940.1 255.2 940.4 263.5 940.7 250.2 941.0 256.4 941.4 242.7 941.7 245.1 942.0 233.3 942.4 236.6 942.7 226.3 943.0 228.0 943.3 225.5 943.7 233.7 944.0 224.7 944.3 234.4 944.7 230.9 945.0 238.2 945.3 229.5 945.7 240.5 946.0 226.5 946.3 235.9 946.6 228.9 947.0 238.6 947.3 233.5 947.6 243.5 948.0 234.0 948.3 245.4 948.6 236.7 948.9 243.7 949.2 234.9 949.5 249.0 949.8 237.8 950.1 246.3 950.4 237.7 950.7 245.3 951.0 241.1 951.3 246.2 951.6 241.4 951.9 250.5 952.2 239.2 952.5 250.5 952.9 241.6 953.2 249.2 953.5 241.5 953.8 250.1 954.2 239.5 954.5 252.3 954.8 243.1 955.1 248.7 955.5 243.9 955.8 252.7 956.1 241.9 956.4 259.0 956.8 245.2 957.1 250.2 957.4 241.5 957.7 254.5 958.0 245.5 958.4 250.9 958.7 243.5 959.0 249.5 959.4 244.9 959.7 255.2 960.0 246.7 960.3 255.2 960.6 243.9 961.0 251.7 961.3 242.8 961.6 256.1 962.0 244.2 962.3 257.2 962.6 246.3 962.9 252.0 963.2 243.8 963.6 252.1 963.9 246.3 964.2 256.4 964.5 244.7 964.9 255.5 965.2 246.1 965.5 257.4 965.8 248.9 966.2 254.9 966.5 247.3 966.8 256.5 967.1 249.3 967.5 260.3 967.8 250.1 968.1 261.4 968.4 250.3 968.7 260.4 969.0 254.0 969.3 262.1 969.6 251.2 969.9 261.5 970.2 252.1 970.5 264.9 971.0 267.9 971.5 261.0 971.8 251.6 972.1 257.5 972.5 254.0 972.8 258.3 973.1 245.0 973.4 256.2 973.8 248.1 974.1 257.1 974.4 248.2 974.7 256.1 975.0 247.3 975.4 259.9 975.7 246.3 976.0 256.3 976.3 251.3 976.7 254.7 977.0 248.3 977.3 256.1 977.6 250.9 978.0 261.2 978.3 249.1 978.6 257.7 978.9 253.6 979.3 261.9 979.6 254.2 979.9 264.6 980.2 257.9 980.6 271.3 980.9 266.4 981.2 269.0 981.5 262.1 981.8 266.5 982.1 260.5 982.4 268.7 982.7 257.6 983.0 265.5 983.3 262.6 983.7 270.4 984.0 260.6 984.3 271.7 984.6 262.1 984.9 270.5 985.2 258.6 985.5 269.2 985.8 261.9 986.1 272.4 986.4 258.2 986.7 271.0 987.0 258.2 987.3 266.5 987.6 258.6 987.9 268.8 988.2 263.6 988.5 267.4 988.9 261.1 989.2 271.5 989.5 262.3 989.8 267.5 990.1 262.2 990.4 267.3 990.7 261.5 991.0 268.5 991.3 262.6 991.6 268.2 991.9 259.3 992.2 267.1 992.5 259.2 992.9 270.0 993.2 257.9 993.5 268.2 993.8 261.3 994.1 270.8 994.4 258.0 994.7 268.2 995.0 260.9 995.4 268.1 995.7 260.9 996.0 265.4 996.3 261.1 996.6 264.5 996.9 255.4 997.2 266.9 997.6 253.9 997.9 265.4 998.2 251.7 998.5 263.9 998.9 257.4 999.2 262.3 999.5 258.8 999.9 266.5 1000.2 258.7 1000.5 269.1 1000.8 260.9 1001.1 265.5 1001.5 256.2 1001.8 267.2 1002.1 259.9 1002.5 270.9 1002.8 259.5 1003.1 266.8 1003.4 259.4 1003.8 267.8 1004.1 259.0 1004.4 265.9 1004.8 257.0 1005.1 265.3 1005.5 261.0" fill="none" stroke="#d20000" stroke-width="1.6" stroke-linejoin="round"/>
<path d="M139.3 236.0L139.5 246.5 139.7 282.7 140.0 283.0 140.2 236.7 140.4 243.4 140.6 255.9 140.8 309.2 141.0 323.0 141.1 323.0 141.0 323.0 141.0 365.0 141.5 324.0 141.9 376.6 142.4 333.3 142.9 373.3 143.0 323.0 143.0 395.0 143.3 334.4 143.8 392.2 144.3 347.6 144.7 403.2 145.2 346.8 145.7 403.5 146.1 331.4 146.4 330.0 146.4 412.0 146.6 331.9 147.0 401.9 147.5 348.9 148.0 397.1 148.4 343.8 148.5 335.0 148.5 395.0 148.9 345.4 149.4 383.6 149.8 344.9 150.3 340.0 150.3 380.0 150.5 300.0 150.7 291.4 151.0 295.2 151.2 301.9 151.4 253.2 151.6 294.0 151.8 267.5 152.0 297.1 152.2 245.6 152.5 274.8 152.6 229.0 152.7 229.0 152.9 229.0 153.1 229.0 153.1 175.0 153.1 229.0 154.0 181.9 154.2 150.0 154.2 232.0 154.7 143.2 154.7 235.0 154.9 186.9 155.4 165.0 155.4 245.0 155.8 187.2 156.5 158.8 156.5 250.0 156.7 206.0 157.6 242.9 158.5 175.0 158.5 258.0 159.4 208.9 160.3 183.0 160.3 260.0 160.5 260.0 160.7 260.0 160.9 260.0 161.1 260.0 161.3 260.0 161.3 287.2 161.5 335.8 161.7 262.6 161.9 323.3 162.1 313.6 162.3 286.4 162.5 389.1 162.7 346.2 162.9 428.4 163.1 421.9 163.3 441.0 163.3 441.0 163.3 441.0 163.3 495.0 164.2 474.4 165.0 482.2 165.1 440.0 165.1 519.8 165.9 470.1 166.7 496.9 167.1 405.6 167.1 505.0 167.6 429.4 168.4 489.0 169.0 430.0 169.0 500.0 169.3 465.1 170.1 458.9 171.0 441.0 171.0 480.0 171.2 411.1 171.4 394.2 171.6 398.1 171.8 340.9 172.0 336.5 172.2 336.3 172.4 333.6 172.6 308.1 172.8 284.0 172.8 284.0 172.8 284.0 172.8 355.0 173.3 282.5 173.7 336.9 174.2 295.4 174.6 338.1 175.1 293.2 175.5 353.1 176.0 278.4 176.0 270.0 176.0 362.0 176.5 269.7 176.9 347.0 177.4 265.6 177.8 363.1 178.3 265.3 178.7 362.1 179.2 265.7 179.6 256.2 179.6 366.0 179.7 257.0 180.1 365.1 180.6 261.4 181.0 361.9 181.5 269.2 181.9 361.6 182.4 288.0 182.8 345.0 183.0 265.0 183.0 360.0 183.3 268.3 183.8 354.3 184.2 275.6 184.7 350.6 185.1 273.4 185.6 336.1 186.0 298.7 186.5 276.0 186.5 355.0 186.7 358.9 186.9 391.2 187.1 362.2 187.3 436.0 187.5 368.0 187.7 418.5 187.9 431.1 188.1 439.8 188.3 494.4 188.5 427.5 188.7 426.7 188.9 485.6 189.1 470.6 189.3 544.5 189.5 560.8 189.7 567.0 189.9 500.3 190.1 525.4 190.3 490.2 190.5 527.8 190.7 589.1 190.9 584.4 191.1 575.0 191.3 551.1 191.5 554.2 191.7 599.7 191.9 566.8 192.1 607.5 192.1 588.2 192.3 545.6 192.5 571.2 192.7 602.4 192.9 526.8 193.1 534.5 193.3 604.8 193.5 517.6 193.7 546.7 193.9 456.3 194.1 544.0 194.3 430.7 194.5 524.0 194.7 426.7 194.9 382.6 195.1 476.2 195.3 402.9 195.5 375.7 195.7 411.9 195.9 323.0 196.1 309.7 196.3 301.8 196.5 275.2 196.7 294.4 196.9 314.6 197.1 284.1 197.3 285.4 197.5 279.0 197.7 258.9 197.9 193.0 198.1 205.6 198.3 268.0 198.5 206.4 198.7 226.4 198.9 157.8 199.1 165.5 199.3 219.2 199.5 176.0 199.7 205.5 199.9 151.1 200.1 124.4 200.3 112.2 200.4 109.0 200.5 112.5 200.7 154.2 200.9 201.5 201.1 168.9 201.3 222.7 201.5 145.7 201.7 153.1 201.9 166.1 202.1 271.3 202.3 202.1 202.5 280.3 202.7 321.8 202.9 248.0 203.1 283.7 203.3 373.2 203.5 278.2 203.7 337.4 203.9 309.1 204.1 390.9 204.3 382.5 204.5 326.3 204.7 418.3 204.9 358.6 205.1 465.4 205.3 388.9 205.5 391.9 205.7 431.3 205.9 460.7 206.1 519.8 206.3 444.1 206.5 507.7 206.7 453.2 206.9 503.6 207.1 463.8 207.2 520.8 207.3 508.1 207.5 453.5 207.7 441.4 207.9 480.6 208.1 481.4 208.3 431.7 208.5 452.5 208.7 385.3 208.9 365.1 209.1 384.8 209.3 427.2 209.5 377.1 209.7 340.4 209.9 310.8 210.1 356.7 210.3 269.4 210.5 350.1 210.7 319.7 210.9 263.1 211.1 239.5 211.3 268.7 211.5 215.0 211.7 253.8 211.9 206.5 212.1 214.7 212.3 219.4 212.5 200.5 212.7 225.0 212.9 243.2 213.1 203.6 213.3 204.1 213.5 223.5 213.7 211.4 213.9 247.6 214.1 216.5 214.3 184.1 214.3 195.0 213.5 195.0 213.5 260.0 214.0 203.0 214.4 265.5 214.9 205.9 215.3 275.6 215.8 221.6 216.0 215.0 216.0 290.0 216.2 223.8 216.7 288.6 217.1 222.0 217.6 293.4 218.0 214.3 218.5 294.3 218.9 215.6 219.4 296.9 219.8 205.4 220.3 293.3 220.6 203.3 220.6 300.0 220.8 208.1 221.2 287.1 221.7 218.8 222.1 283.9 222.6 225.3 223.0 287.3 223.5 235.4 223.9 299.9 224.4 220.1 224.8 282.4 225.0 215.0 225.0 311.0 225.3 216.8 225.7 291.1 226.2 228.8 226.7 308.7 227.1 233.8 227.6 282.6 228.0 224.7 228.5 287.2 228.9 229.4 229.4 303.8 229.8 217.6 230.3 292.6 230.4 203.3 230.4 305.0 230.7 229.9 231.2 282.7 231.6 236.3 232.1 289.7 232.5 244.9 233.0 230.0 233.0 300.0 233.1 300.0 233.2 327.6 233.4 325.2 233.6 330.7 233.8 326.4 234.0 341.2 234.2 359.2 234.4 350.8 234.6 400.5 234.8 371.7 235.0 401.3 235.2 420.3 235.4 342.6 235.6 434.9 235.9 443.4 236.1 418.8 236.3 424.1 236.5 444.4 236.7 453.9 236.9 400.7 237.1 429.6 237.3 448.2 237.3 456.5 237.5 396.1 237.7 442.0 237.9 446.8 238.1 439.6 238.3 426.6 238.5 437.5 238.7 433.5 238.9 347.5 239.1 444.8 239.3 389.8 239.5 352.1 239.7 345.2 239.9 329.3 240.1 427.9 240.3 403.7 240.5 405.4 240.7 313.1 240.9 339.1 241.1 269.1 241.3 319.7 241.5 271.8 241.7 286.7 241.9 237.7 242.1 335.5 242.3 334.0 242.5 320.9 242.8 247.0 243.0 323.7 243.2 236.2 243.4 220.8 243.6 205.9 243.8 214.1 244.0 205.6 244.2 235.9 244.4 214.3 244.6 277.1 244.8 240.5 245.0 277.1 245.2 244.6 245.4 242.4 245.6 240.9 245.8 224.1 246.0 200.0 246.0 200.0 246.0 284.0 246.9 238.8 247.8 273.9 248.7 190.1 248.7 164.6 248.7 275.0 249.5 184.5 250.4 246.3 251.0 180.0 251.0 250.0 251.3 205.4 252.2 198.4 253.0 140.0 253.0 262.0 253.1 152.4 254.0 223.4 254.8 148.0 255.0 128.3 255.0 280.0 255.7 175.8 256.6 257.5 257.5 150.0 257.5 284.0 257.7 322.2 257.9 311.4 258.1 300.2 258.3 359.7 258.5 306.9 258.7 287.8 258.9 306.6 259.1 302.3 259.3 356.2 259.5 391.1 259.7 359.3 259.9 366.8 260.1 338.4 260.3 468.8 260.5 421.2 260.7 480.6 260.9 416.2 261.1 445.3 261.3 529.4 261.5 530.2 261.7 431.3 261.9 554.3 262.1 525.2 262.3 510.8 262.5 578.2 262.7 599.6 262.9 506.2 263.1 570.0 263.3 573.8 263.5 603.4 263.7 587.2 263.9 539.7 264.1 603.8 264.2 567.5 264.4 593.2 264.6 539.1 264.8 596.0 265.0 517.8 265.2 560.6 265.4 531.5 265.6 547.5 265.8 496.6 266.0 570.1 266.2 548.6 266.4 452.9 266.6 536.1 266.8 439.4 267.0 452.3 267.2 430.1 267.4 450.1 267.6 380.6 267.8 382.9 268.0 415.4 268.2 418.0 268.4 367.7 268.6 416.0 268.8 384.3 269.0 294.4 269.2 292.0 269.4 306.3 269.6 259.5 269.8 305.8 270.0 226.9 270.2 224.0 270.4 203.3 270.6 181.2 270.8 279.1 271.0 246.8 271.2 262.4 271.4 194.1 271.6 220.0 271.8 201.5 272.0 189.1 272.2 175.0 272.2 100.0 272.2 175.0 273.2 94.1 273.5 85.0 273.5 180.0 274.2 81.8 275.1 77.2 275.1 178.0 275.1 89.1 276.1 165.6 276.3 90.0 276.3 180.0 277.1 110.0 277.1 175.0 277.3 255.2 277.5 280.9 277.7 231.8 277.9 328.2 278.1 264.5 278.3 341.1 278.6 343.9 278.8 450.2 279.0 401.4 279.2 461.8 279.4 380.4 279.6 508.7 279.8 498.9 280.0 458.0 280.2 525.6 280.4 470.2 280.6 487.2 280.8 455.6 281.0 492.9 281.2 482.2 281.3 537.7 281.4 499.9 281.6 487.4 281.9 506.9 282.1 504.6 282.3 514.7 282.5 535.1 282.7 528.0 282.9 485.9 283.1 424.3 283.3 458.6 283.5 400.0 283.5 370.0 283.5 400.0 284.4 355.9 285.2 365.4 286.0 320.0 286.0 380.0 286.1 325.0 286.9 384.7 287.8 291.3 288.6 363.9 289.0 270.0 289.0 400.0 289.5 277.4 290.3 291.6 291.2 281.9 291.5 215.0 291.5 330.0 292.0 273.9 292.9 293.9 293.7 181.3 293.8 177.5 293.8 290.0 294.6 174.6 295.4 236.1 295.9 162.0 295.9 250.0 296.3 201.1 297.1 245.0 298.0 195.0 298.0 270.0 298.2 302.1 298.4 290.6 298.6 309.9 298.8 301.8 299.0 327.7 299.2 295.2 299.4 320.7 299.6 279.7 299.8 288.4 300.0 311.2 300.2 297.1 300.4 322.2 300.6 373.0 300.8 409.0 301.0 354.8 301.2 415.5 301.4 324.8 301.6 348.4 301.8 472.5 302.0 479.5 302.2 483.2 302.4 415.6 302.6 513.1 302.8 475.2 303.0 433.6 303.2 431.2 303.4 453.3 303.6 512.0 303.8 435.6 304.1 519.3 304.3 487.0 304.5 492.9 304.7 464.4 304.8 524.0 304.9 508.4 305.1 516.4 305.3 459.6 305.5 479.8 305.7 453.7 305.9 440.6 306.1 432.3 306.3 483.9 306.5 404.6 306.7 438.2 306.9 331.0 307.1 371.3 307.3 354.8 307.5 347.4 307.7 274.9 307.9 341.8 308.1 255.7 308.3 278.2 308.5 235.1 308.7 270.4 308.9 204.7 309.1 284.4 309.3 194.6 309.5 280.9 309.7 210.7 309.9 258.5 310.1 246.5 310.3 227.9 310.5 217.4 310.7 175.1 310.9 217.4 311.1 204.5 311.3 170.0 311.3 90.0 311.3 170.0 312.3 99.3 312.5 70.0 312.5 176.0 313.3 46.0 313.3 172.0 314.3 72.0 314.3 176.0 315.3 100.0 315.3 170.0 315.5 173.7 315.7 177.9 315.9 286.6 316.1 270.7 316.3 231.1 316.5 268.7 316.7 348.9 316.9 330.6 317.1 375.4 317.3 393.8 317.5 373.2 317.7 404.3 317.9 361.4 318.1 393.4 318.3 366.3 318.5 361.8 318.7 416.0 318.8 416.0 318.7 416.0 318.7 440.0 319.6 423.9 320.5 460.8 321.4 430.4 322.0 420.0 322.0 480.0 322.3 436.2 323.2 491.7 324.1 449.5 325.0 425.0 325.0 510.0 325.1 427.1 326.0 480.1 326.9 468.7 327.4 430.0 327.4 524.0 327.8 450.4 328.7 504.6 329.6 434.8 330.5 410.0 330.5 480.0 330.7 445.4 330.9 391.7 331.1 479.6 331.3 435.4 331.5 441.4 331.7 431.9 331.9 323.1 332.2 417.2 332.4 336.8 332.6 307.0 332.8 317.5 333.0 296.0 333.2 392.5 333.4 302.7 333.6 305.6 333.8 283.3 334.0 376.6 334.2 366.7 334.4 347.8 334.6 310.3 334.8 283.6 335.0 304.5 335.2 342.6 335.4 352.5 335.6 270.1 335.9 286.9 336.1 283.9 336.3 304.0 336.4 267.6 336.5 307.1 336.7 314.2 336.9 275.3 337.1 311.5 337.3 339.1 337.5 340.0 337.5 340.0 337.5 410.0 338.4 342.9 339.0 345.0 339.0 443.0 339.2 345.7 340.1 438.8 340.9 376.8 341.6 345.0 341.6 445.0 341.8 364.3 342.6 408.9 343.5 340.0 343.5 420.0 343.7 388.3 343.9 286.7 344.1 247.9 344.3 280.9 344.5 272.3 344.7 293.7 344.9 236.7 345.1 263.9 345.3 315.6 345.5 243.5 345.7 263.2 345.9 275.4 346.1 247.8 346.3 246.7 346.5 225.0 346.6 225.0 346.5 225.0 346.5 282.0 347.4 228.0 348.2 256.0 349.1 220.4 349.9 233.2 350.0 198.3 350.0 275.0 350.8 225.9 351.6 263.7 352.5 229.4 353.3 267.4 354.2 198.9 355.0 170.0 355.0 265.0 355.0 187.5 355.9 256.5 356.7 156.8 357.6 216.0 358.4 140.8 359.1 134.9 359.1 270.0 359.3 175.9 360.1 211.8 361.0 180.0 361.0 282.0 361.2 316.6 361.4 321.8 361.6 340.9 361.8 294.9 362.0 324.8 362.2 412.6 362.4 401.1 362.6 429.0 362.8 390.7 363.0 399.9 363.2 365.5 363.4 367.4 363.6 470.2 363.8 492.7 364.0 427.3 364.2 458.9 364.4 479.5 364.6 502.3 364.8 453.4 365.0 433.6 365.2 468.6 365.4 507.7 365.6 492.6 365.8 498.4 366.0 495.8 366.2 519.1 366.4 477.9 366.6 537.3 366.6 494.0 366.8 498.7 367.0 524.3 367.2 486.5 367.4 516.8 367.6 531.7 367.8 416.1 368.0 521.2 368.2 406.5 368.4 381.3 368.6 446.5 368.8 448.5 369.0 417.6 369.2 435.1 369.4 432.5 369.6 417.2 369.8 414.9 370.0 306.7 370.2 272.3 370.4 361.4 370.6 351.2 370.8 270.0 371.0 245.8 371.2 243.4 371.4 253.8 371.6 258.1 371.8 273.0 372.0 240.0 372.1 240.0 372.0 240.0 372.0 300.0 372.9 222.1 373.8 218.2 374.7 179.0 374.9 151.5 374.9 238.0 375.6 195.4 376.5 212.5 377.4 166.6 378.0 170.0 378.0 236.0 378.2 178.2 379.1 218.0 380.0 173.7 380.9 218.0 381.1 102.8 381.1 238.0 381.8 167.2 382.7 214.8 383.6 179.8 384.5 200.0 384.5 240.0 384.7 299.5 384.9 308.0 385.1 263.4 385.3 331.2 385.5 248.7 385.7 327.9 385.9 303.3 386.1 338.4 386.3 340.7 386.5 357.2 386.7 424.7 386.9 361.4 387.1 370.8 387.3 464.0 387.5 467.9 387.7 451.1 387.9 527.1 388.1 537.9 388.3 460.3 388.5 533.5 388.7 504.9 388.9 496.0 389.1 543.5 389.4 516.2 389.4 547.7 389.6 524.2 389.8 493.2 390.0 543.2 390.2 480.5 390.4 544.7 390.6 457.7 390.8 547.2 391.0 447.6 391.2 504.7 391.4 424.0 391.6 427.0 391.8 454.0 392.0 419.8 392.2 494.4 392.4 370.9 392.6 360.7 392.8 465.1 393.0 422.3 393.2 342.4 393.4 339.1 393.6 348.2 393.8 340.9 394.0 371.1 394.2 356.1 394.4 373.8 394.5 330.0 394.6 330.0 394.8 330.0 395.0 330.0 395.0 330.0 395.0 400.0 395.9 342.5 396.8 367.8 397.5 290.0 397.5 420.0 397.6 314.7 398.5 411.3 399.4 335.3 400.2 269.8 400.2 430.0 400.2 351.8 401.1 370.7 402.0 300.0 402.0 440.0 402.3 424.0 402.5 436.7 402.8 404.0 403.0 400.0 403.0 400.0 403.0 460.0 403.9 427.1 404.8 484.7 405.0 410.0 405.0 490.0 405.7 428.8 406.6 464.5 407.5 420.0 407.5 508.4 408.4 449.1 409.3 464.4 410.0 415.0 410.0 480.0 410.2 420.2 411.1 452.9 412.0 405.0 412.0 450.0 412.2 430.4 412.4 408.7 412.6 440.5 412.8 406.0 413.0 353.8 413.2 413.1 413.4 341.4 413.6 361.1 413.8 317.8 414.0 316.1 414.2 326.0 414.4 307.5 414.6 284.1 414.8 331.7 415.0 290.0 415.2 293.1 415.4 315.2 415.6 258.1 415.8 230.9 416.0 229.7 416.2 262.6 416.4 245.0 416.6 261.9 416.8 231.3 417.0 264.7 417.2 224.0 417.2 260.0 417.4 269.6 417.6 261.3 417.8 263.7 418.0 328.8 418.2 300.0 418.4 336.7 418.7 282.2 418.9 272.8 419.1 313.6 419.3 312.0 419.5 320.3 419.7 321.4 419.9 389.4 420.1 347.3 420.3 385.4 420.5 378.1 420.5 395.0 420.7 370.4 420.9 366.8 421.1 383.7 421.3 386.2 421.5 377.9 421.7 353.3 421.9 369.8 422.0 306.0 422.1 336.6 422.3 344.4 422.5 357.3 422.7 327.5 422.9 376.6 423.1 399.2 423.3 395.1 423.5 420.2 423.7 423.6 423.9 415.1 424.1 431.7 424.3 459.9 424.5 388.8 424.7 380.9 424.9 378.7 425.1 398.3 425.3 452.6 425.5 508.3 425.7 513.7 425.9 485.7 426.1 529.9 426.3 483.1 426.5 446.2 426.7 526.7 426.9 530.7 427.1 558.0 427.3 545.6 427.5 532.7 427.7 480.0 427.9 562.7 428.1 538.1 428.3 553.7 428.5 540.2 428.7 557.1 428.9 568.5 428.9 562.0 429.1 532.7 429.3 536.7 429.5 507.3 429.7 551.6 429.9 547.4 430.1 471.2 430.3 491.9 430.5 503.9 430.7 483.2 430.9 450.2 431.1 409.4 431.3 386.1 431.5 431.8 431.7 446.6 431.9 415.2 432.1 408.9 432.3 396.9 432.5 339.3 432.7 363.7 432.9 351.8 433.1 365.4 433.3 406.1 433.5 331.3 433.7 380.7 433.9 354.0 434.1 336.3 434.3 338.2 434.5 331.0 434.6 335.0 434.5 335.0 434.5 400.0 435.4 384.0 436.2 435.2 437.1 385.3 437.6 362.0 437.6 465.8 437.9 362.9 438.8 443.9 439.6 394.7 440.5 362.0 440.5 420.0 440.7 415.8 440.9 382.8 441.1 357.4 441.3 410.8 441.5 332.9 441.7 267.8 441.9 267.8 442.1 301.4 442.3 315.8 442.5 347.7 442.7 330.6 442.9 319.7 443.1 294.3 443.3 304.8 443.5 304.2 443.6 267.7 443.7 323.2 443.9 293.6 444.1 345.9 444.3 400.0 444.5 429.5 444.7 329.5 444.9 433.1 445.1 378.9 445.3 483.4 445.5 520.4 445.7 435.8 445.9 521.8 446.1 553.3 446.3 586.2 446.5 581.2 446.7 561.9 446.9 620.0 447.2 629.8 447.4 575.6 447.6 617.5 447.8 627.8 448.0 642.4 448.2 612.2 448.4 617.0 448.5 645.5 448.6 596.2 448.8 627.0 449.0 604.9 449.2 600.4 449.4 591.0 449.6 626.0 449.8 633.4 450.0 643.0 450.2 639.8 450.4 555.2 450.6 616.7 450.8 621.6 451.0 504.8 451.2 588.1 451.4 572.5 451.6 495.8 451.8 543.8 452.0 472.8 452.2 533.7 452.4 485.8 452.6 520.8 452.8 436.1 453.0 512.2 453.2 452.0 453.4 449.2 453.6 385.7 453.8 439.6 454.0 408.8 454.2 383.5 454.4 300.7 454.6 321.7 454.8 334.9 455.0 300.0 455.0 250.0 455.0 300.0 455.9 232.2 456.7 271.4 457.0 200.0 457.0 300.0 457.6 204.5 457.9 181.2 457.9 300.0 458.5 218.7 459.0 200.0 459.0 300.0 459.3 205.9 460.2 299.4 461.0 235.0 461.0 300.0 461.0 273.6 461.9 269.6 462.8 256.1 463.6 284.6 464.5 250.0 464.5 300.0 464.7 302.1 464.9 362.4 465.1 442.9 465.3 487.2 465.5 377.9 465.7 406.7 465.9 399.5 466.1 515.0 466.3 533.5 466.5 426.9 466.7 478.1 466.9 558.8 467.1 515.1 467.3 573.6 467.6 507.5 467.8 482.8 468.0 578.9 468.2 478.0 468.4 524.0 468.6 574.4 468.8 494.5 469.0 585.5 469.2 549.4 469.4 521.2 469.6 547.2 469.8 547.7 470.0 565.2 470.2 556.5 470.4 533.0 470.6 541.1 470.8 539.7 471.0 524.3 471.0 587.7 471.2 545.7 471.4 537.5 471.6 540.1 471.8 549.9 472.0 563.9 472.2 553.3 472.4 578.5 472.6 533.9 472.8 542.0 473.0 487.8 473.2 465.2 473.4 518.0 473.6 547.2 473.8 475.5 474.0 445.3 474.2 442.1 474.4 451.6 474.6 496.4 474.9 498.2 475.1 479.5 475.3 383.0 475.5 385.1 475.7 366.5 475.9 461.4 476.1 444.6 476.3 353.4 476.5 366.0 476.7 343.8 476.9 387.7 477.1 352.5 477.3 402.4 477.4 340.3 477.5 347.6 477.7 349.0 477.9 343.7 478.1 341.9 478.3 364.9 478.3 400.0 478.5 397.0 478.5 397.0 478.5 450.0 479.4 403.4 480.0 400.0 480.0 470.0 480.3 400.9 481.2 397.0 481.2 478.0 481.7 366.0 481.7 470.0 482.1 378.7 483.0 400.0 483.0 460.0 483.2 485.5 483.4 465.0 483.6 513.0 483.8 553.5 484.0 488.9 484.2 572.0 484.4 583.6 484.6 605.1 484.8 617.3 485.0 579.9 485.2 641.8 485.4 644.5 485.6 562.7 485.8 593.4 486.0 601.0 486.2 560.3 486.4 624.4 486.6 588.7 486.8 685.6 487.0 627.2 487.2 639.4 487.4 602.3 487.6 657.2 487.8 669.9 488.0 677.2 488.2 642.8 488.4 638.9 488.6 651.2 488.8 625.6 489.0 664.9 489.1 690.0 489.2 623.7 489.4 689.4 489.6 682.3 489.8 669.8 490.0 593.1 490.2 640.9 490.4 602.2 490.6 607.5 490.8 620.8 491.0 551.9 491.2 615.9 491.4 611.9 491.6 540.2 491.8 583.7 492.0 510.6 492.2 544.6 492.4 459.3 492.6 469.2 492.8 501.8 493.0 488.0 493.2 373.7 493.4 475.6 493.6 367.7 493.8 401.7 494.0 372.8 494.2 344.7 494.4 276.1 494.6 385.0 494.8 366.9 495.0 338.3 495.2 339.7 495.4 299.6 495.6 295.9 495.8 270.0 496.0 272.3 496.2 251.5 496.4 300.3 496.6 232.1 496.8 262.1 497.1 283.5 497.2 221.0 497.3 249.8 497.5 232.6 497.7 255.5 497.9 225.2 498.1 225.2 498.3 233.2 498.5 316.6 498.7 291.8 498.9 254.0 499.1 298.7 499.3 332.3 499.5 307.7 499.7 311.3 499.9 347.8 500.1 315.3 500.3 441.5 500.5 417.4 500.7 397.4 500.9 413.6 501.1 409.3 501.3 513.7 501.5 420.2 501.7 480.9 501.9 449.3 502.1 571.1 502.3 477.5 502.5 513.9 502.7 558.6 502.9 595.3 503.1 593.3 503.3 602.8 503.5 612.6 503.7 635.9 503.9 636.5 504.1 628.9 504.3 600.0 504.5 615.3 504.7 635.1 504.9 630.7 505.1 615.0 505.3 629.8 505.5 613.8 505.7 616.3 505.9 611.7 506.1 637.1 506.3 598.5 506.5 595.4 506.5 641.7 506.7 633.4 506.9 592.6 507.1 606.3 507.3 595.5 507.5 614.2 507.7 555.5 507.9 622.8 508.1 619.2 508.3 609.8 508.5 602.6 508.7 619.8 508.9 572.7 509.1 567.3 509.3 605.0 509.5 525.3 509.7 560.0 509.9 577.8 510.1 623.8 510.3 550.8 510.5 618.0 510.7 552.3 510.9 500.2 511.1 598.3 511.3 529.0 511.5 569.5 511.7 550.4 511.9 549.5 512.1 444.4 512.3 480.4 512.5 428.0 512.7 475.0 512.9 428.5 513.1 454.7 513.3 414.9 513.5 390.7 513.7 340.8 513.9 438.8 514.1 404.3 514.3 370.0 514.5 327.5 514.7 349.7 514.9 343.1 515.1 272.5 515.3 344.1 515.5 250.1 515.7 295.4 515.9 299.7 516.1 277.3 516.3 305.8 516.5 292.0 516.7 283.0 516.9 297.2 517.1 249.0 517.1 259.9 517.3 249.5 517.5 291.4 517.7 284.9 517.9 277.1 518.1 263.9 518.3 364.5 518.5 296.7 518.7 374.1 518.9 358.3 519.1 357.4 519.3 339.1 519.5 415.9 519.7 378.1 519.9 416.4 520.1 400.6 520.3 431.1 520.5 526.1 520.7 487.8 520.9 498.7 521.1 494.3 521.3 469.5 521.5 510.7 521.7 501.3 521.9 518.6 522.1 585.4 522.3 530.4 522.5 533.1 522.7 640.3 522.9 599.9 523.1 657.2 523.3 608.4 523.5 621.2 523.7 608.7 523.9 654.6 524.1 654.1 524.3 693.4 524.5 724.8 524.7 661.9 524.9 699.3 525.1 725.8 525.3 698.8 525.5 672.9 525.7 693.2 525.9 722.1 526.1 703.8 526.3 680.5 526.5 703.3 526.7 679.3 526.9 732.7 526.9 713.2 527.1 695.7 527.3 686.4 527.5 649.5 527.7 655.7 527.9 722.1 528.1 702.8 528.3 589.1 528.5 559.5 528.7 625.8 528.9 573.4 529.1 588.2 529.3 583.9 529.5 531.5 529.7 440.2 529.9 496.1 530.1 381.7 530.3 373.7 530.5 369.5 530.7 312.8 530.9 367.7 531.1 372.3 531.3 338.3 531.5 300.0 531.5 300.0 531.5 300.0 531.5 360.0 532.4 284.4 533.1 230.3 533.1 380.0 533.2 286.3 534.1 364.5 535.0 249.3 535.8 332.1 536.0 260.0 536.0 400.0 536.7 317.6 537.5 382.1 538.3 242.8 538.3 400.0 538.4 246.7 539.3 335.1 540.1 321.0 541.0 300.0 541.0 410.0 541.3 410.0 541.5 401.0 541.5 401.0 541.5 470.0 542.4 406.1 543.0 405.0 543.0 495.0 543.2 446.3 544.1 499.7 544.5 410.0 544.5 512.5 544.9 459.1 545.8 452.1 546.1 401.7 546.1 480.0 546.6 410.5 547.5 420.0 547.5 470.0 547.7 502.1 547.9 516.9 548.1 475.4 548.3 553.8 548.5 547.7 548.7 548.9 548.9 543.3 549.1 477.3 549.3 533.8 549.6 507.2 549.8 523.3 549.8 556.4 550.0 536.3 550.2 509.0 550.4 523.7 550.6 520.5 550.8 443.2 551.0 474.4 551.2 446.7 551.4 484.2 551.6 409.8 551.8 431.9 552.0 472.4 552.2 375.4 552.4 340.8 552.6 352.1 552.8 367.1 553.0 306.2 553.2 354.0 553.4 367.8 553.6 330.8 553.8 306.1 554.0 351.6 554.2 339.2 554.4 303.1 554.5 310.0 554.0 310.0 554.0 400.0 554.9 332.3 555.8 405.7 556.7 332.1 557.0 320.0 557.0 415.0 557.6 343.1 558.5 402.6 559.4 333.4 560.0 330.0 560.0 420.0 560.3 333.7 561.2 415.9 562.1 385.0 563.0 350.0 563.0 410.0 563.2 447.1 563.4 447.8 563.6 433.2 563.8 429.1 564.0 423.9 564.2 441.5 564.4 467.2 564.6 512.0 564.9 430.7 565.1 423.8 565.3 514.4 565.5 460.4 565.7 513.0 565.9 558.7 566.1 548.4 566.3 551.0 566.5 487.2 566.7 514.1 566.9 553.7 567.1 599.9 567.3 506.9 567.5 592.7 567.7 611.0 567.9 571.6 568.1 600.8 568.3 581.2 568.5 611.4 568.5 555.4 568.7 557.7 569.0 570.8 569.2 519.2 569.4 525.6 569.6 487.1 569.8 583.4 570.0 512.9 570.2 529.2 570.4 482.6 570.6 466.3 570.8 498.2 571.0 440.0 571.0 380.0 571.0 440.0 571.9 372.7 572.8 433.5 573.1 353.0 573.1 445.0 573.7 374.1 574.6 419.3 575.5 375.4 576.4 435.5 577.0 370.0 577.0 440.0 577.3 371.2 578.2 430.7 579.1 382.9 580.0 365.0 580.0 442.0 580.9 406.9 581.8 395.0 582.7 394.4 583.0 347.3 583.0 440.0 583.6 404.2 584.5 380.0 584.5 430.0 584.7 500.3 584.9 492.3 585.1 487.3 585.3 451.0 585.5 549.5 585.7 522.6 585.9 495.3 586.1 464.4 586.3 558.7 586.5 491.3 586.7 538.4 586.9 553.7 587.1 582.2 587.3 532.2 587.5 567.3 587.7 546.6 587.9 570.7 588.0 604.1 588.1 603.4 588.3 590.0 588.5 546.2 588.8 520.7 589.0 570.9 589.2 535.4 589.4 527.3 589.6 529.9 589.8 545.5 590.0 565.6 590.2 442.5 590.4 473.2 590.6 540.3 590.8 509.6 591.0 503.2 591.2 426.7 591.4 391.5 591.6 411.0 591.8 469.0 592.0 486.4 592.2 478.1 592.4 477.8 592.6 385.6 592.8 391.2 593.0 429.5 593.2 408.7 593.4 425.6 593.6 418.2 593.8 397.9 594.0 380.0 594.0 380.0 594.0 430.0 594.9 387.5 595.9 402.5 596.5 353.0 596.5 440.0 596.8 359.9 597.7 410.0 598.5 380.0 598.5 470.0 598.6 413.8 599.6 479.0 600.5 390.0 600.5 506.5 600.8 482.5 601.0 480.8 601.3 506.5 601.5 470.0 601.5 385.0 601.5 470.0 602.4 387.1 603.3 434.5 604.2 388.6 604.2 382.0 604.2 480.0 605.1 412.8 605.9 466.8 606.8 427.1 607.0 400.0 607.0 475.0 607.7 417.4 608.6 468.9 609.5 420.0 609.5 470.0 609.7 526.3 609.9 510.4 610.1 553.0 610.3 483.5 610.5 513.9 610.7 562.5 610.9 491.9 611.1 566.1 611.3 548.9 611.5 605.5 611.7 612.3 611.9 520.9 612.1 547.0 612.3 603.1 612.5 555.8 612.7 601.0 612.9 596.1 613.1 614.5 613.1 549.9 613.3 588.5 613.5 600.0 613.7 540.6 613.9 613.1 614.1 557.6 614.3 549.3 614.5 576.8 614.7 599.1 614.9 566.7 615.1 600.3 615.3 562.5 615.5 521.2 615.7 571.7 615.9 584.6 616.1 496.4 616.3 547.4 616.5 528.2 616.7 511.6 616.9 442.3 617.1 470.8 617.3 485.8 617.5 449.3 617.7 457.5 617.9 407.5 618.1 460.3 618.3 470.9 618.5 414.9 618.7 428.0 618.9 478.6 619.1 500.4 619.3 491.2 619.5 400.0 619.5 400.0 619.5 460.0 620.4 394.5 621.2 467.0 621.9 380.0 621.9 477.5 622.1 407.0 623.0 409.4 623.8 376.7 624.0 360.0 624.0 455.0 624.7 398.8 625.5 432.3 626.4 350.9 626.4 450.0 626.4 400.4 627.3 446.7 628.1 388.2 629.0 380.0 629.0 445.0 629.2 500.8 629.4 468.3 629.6 475.7 629.8 489.4 630.0 454.8 630.2 486.4 630.4 497.5 630.6 514.8 630.8 504.4 631.0 538.6 631.2 485.1 631.4 472.6 631.6 569.5 631.9 583.3 632.1 513.4 632.3 562.8 632.5 574.2 632.7 500.7 632.9 506.3 633.1 550.6 633.3 591.2 633.5 580.2 633.7 600.7 633.9 586.1 634.1 619.2 634.3 588.0 634.5 570.8 634.7 592.8 634.9 583.0 634.9 623.8 635.1 622.5 635.3 616.6 635.5 613.2 635.7 620.9 635.9 605.9 636.1 602.8 636.3 590.8 636.5 537.9 636.7 536.2 636.9 475.5 637.1 512.5 637.3 544.3 637.5 565.2 637.7 528.1 637.9 523.0 638.1 524.5 638.3 485.1 638.5 475.0 638.5 500.0 637.5 500.0 637.5 520.0 638.5 511.3 639.0 476.0 639.0 540.0 639.5 491.2 640.5 548.4 640.6 492.0 640.6 552.2 641.5 489.8 642.5 480.0 642.5 530.0 642.6 529.1 642.6 470.0 642.6 370.6 642.6 470.0 643.5 376.4 644.3 474.9 645.2 417.2 645.7 370.6 645.7 480.0 646.0 382.3 646.9 416.8 647.5 380.0 647.5 470.0 647.7 400.5 648.6 439.7 649.4 379.7 649.9 358.1 649.9 480.0 650.3 414.3 651.1 451.5 652.0 380.0 652.0 470.0 652.2 481.1 652.4 495.7 652.6 486.6 652.8 512.2 653.0 482.7 653.2 542.5 653.4 624.4 653.6 542.6 653.8 559.7 654.0 568.0 654.2 648.9 654.4 601.2 654.6 602.4 654.8 606.0 655.0 687.3 655.2 692.5 655.4 652.5 655.6 687.1 655.8 652.0 655.9 698.4 656.0 689.6 656.2 697.4 656.4 640.6 656.6 650.5 656.8 691.6 657.0 694.0 657.2 608.6 657.4 572.3 657.6 546.7 657.8 552.8 658.0 533.9 658.2 598.4 658.4 542.8 658.6 581.8 658.8 606.3 659.0 499.6 659.2 548.8 659.4 515.0 659.6 495.5 659.8 432.3 660.0 461.2 660.2 426.1 660.4 418.7 660.6 415.1 660.8 402.1 661.0 439.1 661.2 411.5 661.4 476.8 661.6 379.2 661.8 460.7 662.0 376.0 662.2 369.5 662.4 371.8 662.6 377.6 662.8 366.6 663.0 403.9 663.2 380.5 663.4 395.0 663.6 414.7 663.8 358.1 664.0 359.0 664.2 366.3 664.4 353.6 664.5 380.0 660.5 380.0 660.5 425.0 661.4 381.5 662.3 424.5 662.5 360.0 662.5 428.0 663.2 399.2 664.1 425.5 664.4 353.6 664.4 425.0 664.9 377.3 665.8 388.4 666.7 369.5 667.0 365.0 667.0 420.0 667.6 389.4 668.5 390.0 668.5 420.0 668.7 424.3 668.9 434.6 669.1 503.1 669.3 526.2 669.5 513.4 669.7 522.5 669.9 494.7 670.1 468.6 670.3 593.7 670.5 572.9 670.7 536.8 670.9 613.6 671.1 620.4 671.3 607.1 671.5 637.6 671.7 642.1 671.9 600.0 672.1 615.8 672.3 652.9 672.5 669.0 672.7 639.1 672.9 688.9 673.1 695.4 673.3 688.1 673.5 663.9 673.7 707.2 673.8 714.3 673.9 674.4 674.1 674.0 674.3 685.9 674.5 692.1 674.7 643.5 674.9 629.8 675.1 713.3 675.3 660.0 675.5 644.5 675.7 675.3 675.9 638.9 676.1 667.1 676.3 648.8 676.5 620.1 676.7 592.8 676.9 586.8 677.1 556.4 677.3 531.3 677.5 611.0 677.7 553.9 677.9 614.5 678.1 583.1 678.3 521.0 678.5 592.1 678.7 531.5 678.9 534.7 679.1 563.5 679.3 517.2 679.5 562.5 679.7 499.6 679.9 561.5 680.1 558.6 680.3 471.2 680.5 470.0 680.5 420.0 680.5 470.0 681.4 421.3 682.3 474.4 683.0 400.0 683.0 478.0 683.2 431.9 684.1 463.2 685.0 413.2 685.6 388.2 685.6 476.0 685.9 410.3 686.8 431.6 687.7 428.7 688.0 400.0 688.0 470.0 688.6 412.3 689.5 430.0 689.5 470.0 689.7 505.5 689.9 516.2 690.1 539.2 690.3 628.7 690.5 599.7 690.7 654.9 690.9 655.4 691.1 575.6 691.3 652.9 691.5 679.6 691.7 628.7 691.9 656.2 692.1 626.6 692.3 685.3 692.3 677.6 692.5 668.9 692.7 668.2 692.9 684.1 693.1 662.8 693.3 682.6 693.5 584.3 693.7 621.4 693.9 671.0 694.1 565.0 694.3 552.7 694.5 580.8 694.7 552.8 694.9 528.6 695.1 585.1 695.3 506.9 695.5 473.3 695.7 508.4 695.9 516.6 696.1 493.6 696.3 464.6 696.5 502.7 696.7 462.2 696.9 464.2 697.1 441.5 697.3 489.7 697.5 400.0 697.5 400.0 697.5 470.0 698.4 425.2 699.3 437.4 699.5 390.0 699.5 476.0 700.2 414.2 701.1 457.1 701.8 380.0 701.8 478.0 702.0 434.3 702.9 458.3 703.8 435.0 704.6 475.1 705.0 400.0 705.0 476.0 705.5 418.2 706.4 453.4 707.3 416.2 708.0 420.0 708.0 475.0 708.2 448.0 709.1 476.7 710.0 429.8 710.0 480.0 710.2 504.1 710.4 559.8 710.6 558.5 710.8 557.0 711.0 522.5 711.2 607.0 711.4 607.4 711.6 531.0 711.8 612.2 712.0 581.7 712.2 565.9 712.4 610.9 712.6 548.4 712.8 550.3 713.0 586.5 713.2 610.1 713.4 618.5 713.4 610.9 713.6 568.9 713.8 582.7 714.0 593.7 714.2 584.2 714.4 576.3 714.6 570.6 714.8 593.9 715.0 602.6 715.2 590.9 715.4 605.8 715.6 560.0 715.6 615.3 715.8 620.8 716.0 579.4 716.2 605.2 716.4 620.5 716.6 581.8 716.8 602.5 717.0 577.6 717.2 572.2 717.4 601.7 717.6 585.9 717.8 623.3 718.0 602.4 718.2 607.9 718.3 627.2 718.4 602.5 718.6 585.7 718.8 570.3 719.0 578.5 719.2 604.5 719.4 595.0 719.6 591.9 719.8 509.8 720.0 508.9 720.2 504.3 720.4 524.0 720.6 555.7 720.8 483.4 721.0 497.0 721.2 561.1 721.4 460.5 721.6 548.7 721.8 492.3 722.0 454.1 722.2 454.5 722.4 474.4 722.6 462.4 722.8 467.2 723.0 467.7 723.2 452.3 723.4 505.6 723.6 445.3 723.6 445.5 723.8 464.0 724.0 460.4 724.2 458.0 724.4 460.6 724.6 507.3 724.8 561.6 725.0 542.6 725.2 557.2 725.4 548.6 725.6 530.8 725.7 565.7 725.8 507.8 726.0 562.4 726.2 544.7 726.4 554.0 726.6 549.4 726.8 558.0 727.0 491.6 727.2 456.2 727.4 496.5 727.6 434.9 727.9 380.0 727.8 380.0 727.8 445.0 728.7 375.9 729.6 438.0 730.3 353.0 730.3 445.0 730.5 367.1 731.3 395.6 732.2 412.4 732.5 370.0 732.5 442.0 733.1 408.4 734.0 400.0 734.0 440.0 734.2 446.4 734.4 495.7 734.6 503.2 734.8 443.0 735.0 538.7 735.2 452.0 735.4 496.0 735.6 584.6 735.8 563.0 736.0 580.8 736.2 597.6 736.4 594.9 736.6 570.0 736.8 607.0 737.0 619.3 737.2 637.2 737.4 635.4 737.6 626.6 737.8 562.6 738.0 565.5 738.2 598.7 738.4 607.1 738.6 636.0 738.8 601.7 739.0 618.9 739.2 596.0 739.4 614.4 739.6 627.0 739.8 611.9 740.0 597.6 740.2 573.1 740.3 638.3 740.4 572.1 740.6 607.9 740.8 633.7 741.0 589.5 741.2 582.0 741.4 606.0 741.6 526.1 741.8 594.8 742.0 578.6 742.2 497.7 742.4 477.3 742.6 486.5 742.8 578.9 743.0 478.4 743.2 523.6 743.4 490.6 743.6 558.8 743.8 558.5 744.0 533.4 744.2 489.6 744.4 440.5 744.6 471.7 744.8 441.1 745.0 462.2 745.2 514.0 745.4 448.1 745.6 512.5 745.8 476.7 746.0 448.5 746.2 444.9 746.4 467.7 746.6 451.0 746.8 498.9 747.0 453.8 747.2 495.5 747.4 464.4 747.5 440.0 747.6 441.4 747.8 507.8 748.0 503.5 748.2 463.8 748.4 512.1 748.6 470.6 748.8 534.3 749.0 536.6 749.0 521.7 749.2 526.3 749.4 519.8 749.6 514.3 749.8 514.4 750.0 523.8 750.2 456.0 750.4 486.5 750.6 427.3 750.8 447.1 751.0 466.8 751.2 423.0 751.2 468.6 751.4 482.0 751.6 474.7 751.8 431.6 752.0 443.5 752.2 545.0 752.4 458.6 752.6 572.0 752.8 505.8 753.0 492.2 753.2 542.3 753.4 626.3 753.6 536.5 753.8 577.2 754.0 610.1 754.2 576.7 754.4 642.4 754.6 624.8 754.8 657.9 755.0 615.0 755.2 644.2 755.4 664.7 755.6 688.9 755.8 701.5 756.0 645.4 756.2 639.3 756.4 619.2 756.6 693.6 756.8 673.8 757.0 639.2 757.2 693.9 757.4 691.5 757.6 669.9 757.8 703.4 757.8 647.2 758.0 675.6 758.2 678.2 758.4 639.6 758.6 675.3 758.8 683.2 759.0 603.2 759.2 583.6 759.4 629.5 759.6 640.3 759.8 595.4 760.0 568.2 760.2 623.5 760.4 528.8 760.6 595.1 760.8 601.6 761.0 569.1 761.2 544.5 761.4 464.8 761.6 527.0 761.8 459.1 762.0 489.7 762.2 435.0 762.4 417.1 762.6 465.9 762.8 472.7 763.0 449.9 763.2 458.6 763.4 340.8 763.6 349.3 763.8 331.4 764.0 385.8 764.2 351.1 764.4 350.0 764.6 372.4 764.8 334.0 765.0 354.7 765.2 361.4 765.4 373.4 765.6 330.7 765.6 331.0 765.0 331.0 765.0 420.0 765.9 337.1 766.5 340.0 766.5 450.0 766.8 391.1 767.7 462.7 768.3 361.9 768.3 470.0 768.6 390.1 769.5 455.5 770.0 370.0 770.0 480.0 770.4 373.9 771.3 452.5 771.9 380.0 771.9 494.0 772.2 425.9 773.1 457.7 774.0 400.0 774.0 480.0 774.2 483.8 774.4 511.2 774.6 558.7 774.8 562.1 775.0 512.2 775.2 490.2 775.4 509.1 775.6 589.2 775.8 567.5 776.0 541.0 776.2 560.8 776.5 627.5 776.7 596.3 776.9 638.2 777.1 588.5 777.3 652.3 777.5 665.2 777.7 694.3 777.9 674.7 778.1 613.4 778.3 693.6 778.5 677.1 778.7 645.7 778.9 685.9 779.1 647.6 779.3 634.7 779.5 664.1 779.7 678.6 779.9 636.8 780.1 669.6 780.3 639.1 780.5 662.0 780.7 698.4 780.7 657.2 780.9 641.3 781.1 686.2 781.3 645.0 781.5 675.2 781.7 679.8 781.9 641.1 782.2 624.2 782.4 673.7 782.6 556.2 782.8 621.3 783.0 537.6 783.2 631.6 783.4 528.8 783.6 586.9 783.8 553.8 784.0 621.1 784.2 582.8 784.4 524.3 784.6 534.3 784.8 552.0 785.0 500.0 785.0 500.0 785.0 560.0 785.9 502.9 786.8 556.4 787.0 495.0 787.0 575.0 787.6 521.0 788.5 500.0 788.5 580.2 789.4 520.9 790.2 535.3 790.5 490.0 790.5 560.0 791.1 494.4 792.0 470.0 792.0 520.0 792.2 402.2 792.4 336.3 792.6 362.2 792.9 396.5 793.1 382.3 793.3 353.9 793.5 406.0 793.7 380.9 793.9 408.0 794.1 345.3 794.3 380.4 794.5 336.3 794.5 340.0 792.0 340.0 792.0 440.0 792.9 381.3 793.8 446.2 794.5 336.3 794.5 450.0 794.7 340.2 795.6 388.4 796.4 395.8 797.2 348.8 797.2 460.0 797.3 350.3 798.2 466.0 799.1 367.5 800.0 360.0 800.0 480.0 800.3 525.4 800.5 537.3 800.8 524.2 800.8 540.0 801.0 470.0 801.0 470.0 801.0 560.0 801.9 487.3 802.4 480.0 802.4 589.6 802.8 483.8 803.7 564.0 804.6 503.0 805.0 470.0 805.0 540.0 805.5 468.7 806.5 491.2 807.2 455.7 807.2 530.0 807.4 485.6 808.3 535.6 809.2 505.9 809.3 470.0 809.3 551.2 810.1 469.4 811.0 460.0 811.0 520.0 811.2 496.6 811.3 470.0 811.3 400.0 811.3 470.0 812.2 430.3 813.1 433.7 813.5 390.0 813.5 480.0 814.1 436.7 815.0 480.0 815.9 426.8 816.8 449.5 816.9 370.6 816.9 480.0 817.8 423.2 818.7 451.3 819.6 390.0 819.6 470.0 819.8 495.7 820.0 530.7 820.2 493.8 820.4 488.9 820.6 478.3 820.8 472.6 821.0 583.6 821.2 502.4 821.4 521.9 821.7 517.5 821.9 582.1 822.1 531.1 822.3 637.0 822.5 547.0 822.7 578.9 822.9 564.2 823.1 624.3 823.3 556.9 823.5 576.1 823.7 644.3 823.9 630.5 824.1 646.8 824.3 603.1 824.5 615.2 824.7 651.0 824.7 607.5 824.9 583.4 825.1 619.6 825.3 624.5 825.5 625.6 825.7 635.4 825.9 571.8 826.1 563.8 826.3 567.9 826.6 584.0 826.8 587.0 827.0 606.4 827.2 501.4 827.4 507.7 827.6 472.4 827.8 550.3 828.0 518.5 828.2 521.4 828.4 461.7 828.6 483.4 828.8 435.8 829.0 400.0 829.0 400.0 829.0 470.0 829.9 418.4 830.8 431.4 831.6 398.5 832.5 463.2 832.7 390.7 832.7 490.0 833.4 427.6 834.3 470.6 835.1 456.3 835.2 400.0 835.2 502.4 836.0 415.0 836.9 439.5 837.8 425.3 837.9 386.2 837.9 490.0 838.6 445.9 839.5 481.2 840.4 400.0 840.4 480.0 840.6 504.8 840.8 559.8 841.0 491.2 841.2 602.0 841.4 546.0 841.6 594.7 841.8 619.5 842.0 572.2 842.2 645.8 842.4 606.5 842.6 672.5 842.8 689.3 843.0 706.9 843.2 632.7 843.4 634.1 843.6 658.1 843.8 710.7 844.1 709.4 844.3 693.6 844.4 725.7 844.5 671.8 844.7 703.7 844.9 698.3 845.1 641.3 845.3 660.8 845.5 606.9 845.7 618.5 845.9 679.6 846.1 597.6 846.3 573.1 846.5 556.7 846.7 602.1 846.9 538.9 847.1 517.6 847.3 544.3 847.5 558.2 847.7 482.4 847.9 574.8 848.1 579.3 848.3 538.6 848.5 538.0 848.7 474.4 848.9 440.9 849.1 516.1 849.3 457.8 849.5 441.0 849.7 445.9 849.9 443.0 850.1 452.8 850.3 479.7 850.5 492.8 850.7 489.4 850.9 481.2 851.1 467.5 851.3 486.0 851.4 437.0 851.5 476.0 851.7 438.9 851.9 476.1 852.1 458.4 852.3 478.7 852.5 445.1 852.8 499.4 853.0 549.2 853.2 460.6 853.4 524.2 853.6 487.3 853.8 501.1 854.0 515.3 854.2 546.9 854.3 555.3 854.4 498.2 854.6 524.2 854.8 548.2 855.0 484.3 855.2 523.1 855.4 453.1 855.6 509.1 855.8 493.4 856.0 491.8 856.2 476.3 856.4 485.4 856.6 490.6 856.8 460.6 857.0 410.0 857.0 410.0 857.0 480.0 857.9 418.6 858.8 441.8 859.7 404.2 860.3 395.9 860.3 490.0 860.6 405.3 861.6 458.7 862.5 444.3 862.5 405.0 862.5 480.0 863.4 413.8 864.3 420.0 864.3 470.0 864.5 498.6 864.7 479.7 864.9 482.2 865.1 519.7 865.3 507.4 865.6 471.8 865.8 508.1 866.0 555.0 866.2 562.5 866.4 584.7 866.6 549.3 866.8 586.5 866.8 521.6 867.0 544.7 867.2 549.6 867.4 543.7 867.6 492.6 867.8 500.3 868.0 468.4 868.3 490.5 868.5 518.4 868.7 451.4 868.9 442.5 869.1 452.2 869.3 458.6 869.5 440.0 869.5 440.0 869.5 500.0 870.4 470.5 871.3 504.7 872.2 436.3 872.6 427.3 872.6 510.0 873.0 433.8 873.9 483.9 874.8 450.6 875.7 440.0 875.7 500.0 875.9 508.0 876.1 529.1 876.3 569.6 876.5 566.6 876.7 535.4 876.9 523.2 877.1 506.3 877.3 542.1 877.5 533.9 877.7 547.0 877.9 567.6 878.1 509.0 878.3 558.2 878.5 536.0 878.7 511.9 878.8 570.9 878.9 512.1 879.1 568.1 879.3 567.9 879.5 503.3 879.7 528.4 879.9 468.8 880.1 516.4 880.3 510.9 880.5 511.8 880.7 492.2 880.9 463.0 880.9 482.4 881.1 525.5 881.3 491.8 881.5 531.8 881.7 464.2 881.9 532.0 882.1 514.9 882.3 510.0 882.5 481.0 882.7 464.9 882.9 483.3 883.1 495.8 883.3 468.0 883.5 575.3 883.7 503.9 883.9 519.2 884.1 529.6 884.3 559.3 884.5 523.5 884.7 578.8 884.9 566.4 885.1 578.4 885.3 516.2 885.5 533.7 885.7 605.3 885.9 612.9 886.1 582.9 886.3 512.2 886.5 608.4 886.7 527.0 886.9 544.1 887.1 525.7 887.3 563.1 887.5 566.7 887.7 549.9 887.9 562.8 888.1 584.4 888.3 585.0 888.5 608.0 888.7 555.0 888.8 613.5 888.9 566.1 889.1 607.3 889.3 565.3 889.5 609.7 889.7 577.4 889.9 602.4 890.1 500.6 890.3 574.2 890.5 567.8 890.7 569.2 890.9 469.6 891.1 476.0 891.3 549.9 891.5 469.6 891.7 520.1 891.9 479.9 892.1 498.4 892.3 499.8 892.5 479.9 892.7 477.2 892.9 518.1 893.1 496.9 893.3 463.0 893.3 482.4 893.5 486.1 893.7 484.3 893.9 511.6 894.1 468.7 894.3 548.9 894.5 553.5 894.7 554.4 894.9 523.2 895.1 498.4 895.3 509.8 895.4 564.7 895.5 564.4 895.7 513.9 895.9 550.7 896.1 502.1 896.3 549.9 896.6 558.9 896.8 556.3 897.0 476.2 897.2 524.6 897.4 543.2 897.6 492.2 897.8 538.0 898.0 488.3 898.2 555.3 898.4 510.0 898.6 484.0 898.8 456.4 899.0 543.5 899.2 458.9 899.4 490.8 899.6 472.2 899.8 505.0 900.0 475.3 900.2 476.9 900.4 485.0 900.6 494.2 900.8 482.8 901.0 477.7 901.2 495.7 901.4 480.6 901.6 449.8 901.8 490.8 902.0 506.6 902.1 444.3 902.2 474.0 902.4 503.1 902.6 456.3 902.8 482.2 903.0 474.0 903.2 519.4 903.4 459.9 903.6 459.6 903.8 500.5 904.0 500.0 904.2 524.1 904.4 533.0 904.6 515.3 904.8 543.2 904.8 564.7 905.0 549.8 905.2 528.3 905.4 482.5 905.6 551.4 905.8 542.5 906.0 563.6 906.2 477.8 906.4 481.9 906.6 472.6 906.8 463.7 907.0 459.1 907.2 513.5 907.4 483.7 907.5 453.7 907.6 495.0 907.8 490.8 908.0 508.6 908.2 495.9 908.4 528.2 908.6 498.2 908.8 544.2 909.0 556.9 909.2 571.2 909.4 588.7 909.6 564.3 909.8 491.6 910.0 565.2 910.2 545.7 910.4 610.8 910.6 544.5 910.8 556.6 911.0 574.1 911.2 642.6 911.4 555.5 911.6 649.9 911.8 620.8 912.0 672.0 912.2 614.8 912.4 697.5 912.6 692.9 912.8 632.5 913.0 671.6 913.2 678.6 913.4 674.7 913.6 666.3 913.8 693.4 914.0 668.3 914.2 646.9 914.4 645.1 914.6 636.4 914.7 698.4 914.8 687.5 915.0 681.2 915.2 686.4 915.4 683.9 915.6 630.5 915.8 696.5 916.0 697.5 916.2 629.2 916.4 655.3 916.6 579.6 916.8 586.9 917.0 559.7 917.2 592.8 917.4 538.6 917.6 642.1 917.8 607.5 918.0 614.6 918.2 587.1 918.4 527.6 918.6 499.8 918.8 530.6 919.0 575.0 919.2 517.2 919.4 516.7 919.6 519.3 919.8 486.1 920.0 461.2 920.2 476.7 920.4 480.1 920.6 502.9 920.8 506.8 921.0 478.2 921.2 475.6 921.4 484.3 921.6 490.2 921.8 495.0 922.0 491.7 922.2 487.6 922.4 460.0 922.4 390.0 922.4 460.0 923.3 427.0 924.1 464.5 925.0 426.4 925.5 370.6 925.5 470.0 925.9 392.4 926.7 467.6 927.6 380.2 928.0 380.0 928.0 470.0 928.5 420.6 929.3 439.9 930.2 381.9 930.7 376.4 930.7 480.0 931.1 401.9 931.9 446.0 932.8 400.0 932.8 470.0 933.0 539.5 933.2 514.1 933.5 494.8 933.7 478.0 933.9 470.3 934.1 473.4 934.3 472.1 934.5 545.0 933.5 545.0 933.5 575.0 934.4 557.6 935.3 550.0 935.3 600.0 935.4 553.7 936.3 599.2 937.2 573.0 937.3 560.0 937.3 624.7 938.2 584.5 939.1 578.2 939.5 545.0 939.5 580.0 940.1 558.5 941.0 520.0 941.0 571.0 941.3 503.1 941.5 456.5 941.8 410.0 941.8 410.0 941.8 470.0 942.7 408.1 943.0 400.3 943.0 495.0 943.5 407.3 944.4 468.6 945.2 470.6 946.0 430.0 946.0 510.0 946.1 445.4 947.0 504.6 947.8 457.6 948.7 517.2 949.5 483.4 950.0 455.0 950.0 540.0 950.4 469.2 951.3 539.3 951.5 450.0 951.5 545.0 952.1 506.5 953.0 536.5 953.0 480.0 953.0 560.0 953.8 485.6 954.7 531.6 955.6 527.7 956.4 567.5 956.5 503.0 956.5 580.0 957.3 536.0 958.1 554.1 959.0 530.0 959.0 600.0 959.2 610.5 959.4 621.5 959.6 628.5 959.8 653.9 960.0 604.4 960.2 653.8 960.4 642.1 960.6 641.8 960.8 614.6 961.0 617.8 961.2 646.1 961.5 619.4 961.7 646.7 961.9 619.2 962.1 660.1 962.3 644.9 962.4 661.2 962.5 638.0 962.7 653.8 962.9 616.8 963.1 625.9 963.3 636.4 963.5 594.4 963.7 656.2 963.9 629.7 964.1 566.9 964.3 615.2 964.5 560.0 964.5 470.0 964.5 560.0 965.4 467.5 966.0 450.0 966.0 565.0 966.2 450.6 967.1 560.6 967.8 441.6 967.8 580.0 968.0 497.7 968.9 527.5 969.8 519.2 970.6 510.4 971.0 460.0 971.0 576.5 971.5 492.7 972.4 512.4 973.2 471.4 973.5 470.0 973.5 560.0 974.1 517.7 975.0 540.6 975.9 468.0 976.4 459.0 976.4 560.0 976.8 503.3 977.6 519.3 978.5 480.0 978.5 570.0 978.7 582.3 978.9 623.8 979.1 590.8 979.3 618.7 979.5 604.3 979.7 614.9 979.9 599.3 980.1 587.1 980.3 620.1 980.6 582.7 980.8 595.6 981.0 575.4 981.2 646.6 981.4 641.1 981.6 576.2 981.8 601.9 982.0 572.7 982.2 651.4 982.4 623.3 982.6 644.1 982.8 632.4 983.0 618.9 983.2 619.7 983.4 621.6 983.6 599.0 983.8 632.1 984.0 584.6 984.2 631.3 984.4 588.1 984.6 642.8 984.8 654.7 985.0 644.9 985.3 602.1 985.5 645.3 985.6 659.6 985.7 642.0 985.9 615.1 986.1 638.2 986.3 621.1 986.5 600.8 986.7 583.5 986.9 599.5 987.1 594.7 987.3 642.5 987.5 580.0 987.5 498.0 987.5 580.0 988.4 549.7 988.9 498.0 988.9 600.0 989.3 543.4 990.2 602.5 991.0 557.2 991.4 520.0 991.4 614.8 991.9 546.7 992.8 562.7 993.7 544.4 994.6 593.9 995.5 567.1 995.5 510.0 995.5 614.0 996.4 511.2 997.2 566.9 998.1 508.9 999.0 598.6 999.7 503.0 999.7 610.0 999.9 508.3 1000.5 510.0 1000.5 601.5 1000.8 555.2 1001.7 578.9 1002.5 541.4 1003.4 582.5 1003.8 504.7 1003.8 590.0 1004.3 540.9 1005.2 520.0 1005.2 581.5" fill="none" stroke="#2e2eff" stroke-width="2.0" stroke-linejoin="round"/>

<line x1="692.6" y1="83.4" x2="901.7" y2="83.4" stroke="#d20000" stroke-width="1.4"/>
<line x1="692.6" y1="152.8" x2="901.7" y2="152.8" stroke="#2e2eff" stroke-width="1.4"/>
<text x="936" y="97.8" font-size="46">x</text>
<text x="935.6" y="166.3" font-size="46">y</text>
<rect x="138.6" y="25.5" width="867.4" height="714.2" fill="none" stroke="#000" stroke-width="2.3"/>
<path d="M155.95 739.7v-5.4M173.30 739.7v-5.4M190.64 739.7v-5.4M207.99 739.7v-5.4M225.34 739.7v-10.7M242.69 739.7v-5.4M260.04 739.7v-5.4M277.38 739.7v-5.4M294.73 739.7v-5.4M312.08 739.7v-10.7M329.43 739.7v-5.4M346.78 739.7v-5.4M364.12 739.7v-5.4M381.47 739.7v-5.4M398.82 739.7v-10.7M416.17 739.7v-5.4M433.52 739.7v-5.4M450.86 739.7v-5.4M468.21 739.7v-5.4M485.56 739.7v-10.7M502.91 739.7v-5.4M520.26 739.7v-5.4M537.60 739.7v-5.4M554.95 739.7v-5.4M572.30 739.7v-10.7M589.65 739.7v-5.4M607.00 739.7v-5.4M624.34 739.7v-5.4M641.69 739.7v-5.4M659.04 739.7v-10.7M676.39 739.7v-5.4M693.74 739.7v-5.4M711.08 739.7v-5.4M728.43 739.7v-5.4M745.78 739.7v-10.7M763.13 739.7v-5.4M780.48 739.7v-5.4M797.82 739.7v-5.4M815.17 739.7v-5.4M832.52 739.7v-10.7M849.87 739.7v-5.4M867.22 739.7v-5.4M884.56 739.7v-5.4M901.91 739.7v-5.4M919.26 739.7v-10.7M936.61 739.7v-5.4M953.96 739.7v-5.4M971.30 739.7v-5.4M988.65 739.7v-5.4M138.6 61.21h5.4M138.6 96.92h5.4M138.6 132.63h5.4M138.6 168.34h5.4M138.6 204.05h10.7M138.6 239.76h5.4M138.6 275.47h5.4M138.6 311.18h5.4M138.6 346.89h5.4M138.6 382.60h10.7M138.6 418.31h5.4M138.6 454.02h5.4M138.6 489.73h5.4M138.6 525.44h5.4M138.6 561.15h10.7M138.6 596.86h5.4M138.6 632.57h5.4M138.6 668.28h5.4M138.6 703.99h5.4" stroke="#000" stroke-width="2.1" fill="none"/>
<text transform="translate(138.60 778.9) scale(0.93 1)" font-size="39.5" text-anchor="middle">0</text>
<text transform="translate(225.34 778.9) scale(0.93 1)" font-size="39.5" text-anchor="middle">0.1</text>
<text transform="translate(312.08 778.9) scale(0.93 1)" font-size="39.5" text-anchor="middle">0.2</text>
<text transform="translate(398.82 778.9) scale(0.93 1)" font-size="39.5" text-anchor="middle">0.3</text>
<text transform="translate(485.56 778.9) scale(0.93 1)" font-size="39.5" text-anchor="middle">0.4</text>
<text transform="translate(572.30 778.9) scale(0.93 1)" font-size="39.5" text-anchor="middle">0.5</text>
<text transform="translate(659.04 778.9) scale(0.93 1)" font-size="39.5" text-anchor="middle">0.6</text>
<text transform="translate(745.78 778.9) scale(0.93 1)" font-size="39.5" text-anchor="middle">0.7</text>
<text transform="translate(832.52 778.9) scale(0.93 1)" font-size="39.5" text-anchor="middle">0.8</text>
<text transform="translate(919.26 778.9) scale(0.93 1)" font-size="39.5" text-anchor="middle">0.9</text>
<text transform="translate(1006.00 778.9) scale(0.93 1)" font-size="39.5" text-anchor="middle">1</text>
<text transform="translate(133.5 39.50) scale(0.93 1)" font-size="39.5" text-anchor="end">10</text>
<text transform="translate(133.5 218.05) scale(0.93 1)" font-size="39.5" text-anchor="end">0</text>
<text transform="translate(133.5 396.60) scale(0.93 1)" font-size="39.5" text-anchor="end">-10</text>
<text transform="translate(133.5 575.15) scale(0.93 1)" font-size="39.5" text-anchor="end">-20</text>
<text transform="translate(133.5 753.70) scale(0.93 1)" font-size="39.5" text-anchor="end">-30</text>
<text x="573.7" y="821.5" font-size="46" text-anchor="middle">Time [s]</text>
<text transform="translate(56.1 642.4) rotate(-90)" font-size="46">Image pattern position [μm]</text>
</svg></body></html>
